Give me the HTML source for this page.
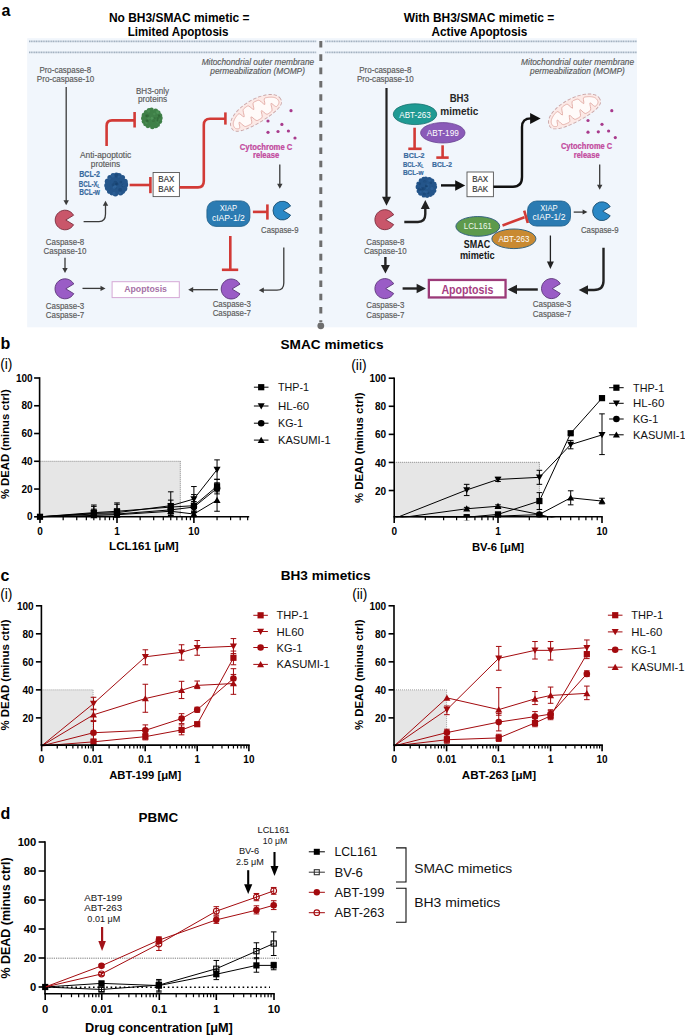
<!DOCTYPE html>
<html><head><meta charset="utf-8"><style>
html,body{margin:0;padding:0;background:#fff;}
svg{display:block;font-family:"Liberation Sans",sans-serif;}
</style></head><body>
<svg width="685" height="1035" viewBox="0 0 685 1035">
<rect width="685" height="1035" fill="#fff"/>
<rect x="27.2" y="38.2" width="609.8" height="289.1" fill="#f1f6fc"/>
<line x1="29.00" y1="41.40" x2="316.50" y2="41.40" stroke="#a2b1c0" stroke-width="1.9" stroke-dasharray="1.2 0.5"/>
<line x1="325.30" y1="41.40" x2="637.00" y2="41.40" stroke="#a2b1c0" stroke-width="1.9" stroke-dasharray="1.2 0.5"/>
<line x1="29.00" y1="52.40" x2="316.50" y2="52.40" stroke="#a2b1c0" stroke-width="1.9" stroke-dasharray="1.2 0.5"/>
<line x1="325.30" y1="52.40" x2="637.00" y2="52.40" stroke="#a2b1c0" stroke-width="1.9" stroke-dasharray="1.2 0.5"/>
<line x1="320.80" y1="41.00" x2="320.80" y2="322.00" stroke="#6e6e6e" stroke-width="3" stroke-dasharray="6.6 6.7"/>
<circle cx="320.8" cy="325.8" r="3.4" fill="#6e6e6e"/>
<text x="1.50" y="16.20" font-size="16" font-weight="bold" >a</text>
<text x="179.20" y="22.40" font-size="12" font-weight="bold" text-anchor="middle" textLength="140.60" lengthAdjust="spacingAndGlyphs" >No BH3/SMAC mimetic =</text>
<text x="178.10" y="36.00" font-size="12" font-weight="bold" text-anchor="middle" textLength="100.90" lengthAdjust="spacingAndGlyphs" >Limited Apoptosis</text>
<text x="479.00" y="22.30" font-size="12" font-weight="bold" text-anchor="middle" textLength="150.50" lengthAdjust="spacingAndGlyphs" >With BH3/SMAC mimetic =</text>
<text x="479.40" y="35.70" font-size="12" font-weight="bold" text-anchor="middle" textLength="95.70" lengthAdjust="spacingAndGlyphs" >Active Apoptosis</text>
<text x="65.30" y="73.10" font-size="8.6" fill="#5a5a5a" text-anchor="middle" textLength="51.80" lengthAdjust="spacingAndGlyphs" stroke="#5a5a5a" stroke-width="0.16">Pro-caspase-8</text>
<text x="65.50" y="82.30" font-size="8.6" fill="#5a5a5a" text-anchor="middle" textLength="57.50" lengthAdjust="spacingAndGlyphs" stroke="#5a5a5a" stroke-width="0.16">Pro-caspase-10</text>
<line x1="66.20" y1="87.00" x2="66.20" y2="201.00" stroke="#3a3a3a" stroke-width="1.3" />
<path d="M63.5,200.3 L68.9,200.3 L66.2,205.3 Z" stroke="none" stroke-width="1" fill="#3a3a3a" />
<text x="257.90" y="64.50" font-size="8.6" fill="#5a5a5a" text-anchor="middle" font-style="italic" textLength="112.50" lengthAdjust="spacingAndGlyphs" stroke="#5a5a5a" stroke-width="0.16">Mitochondrial outer membrane</text>
<text x="257.60" y="73.80" font-size="8.6" fill="#5a5a5a" text-anchor="middle" font-style="italic" textLength="94.70" lengthAdjust="spacingAndGlyphs" stroke="#5a5a5a" stroke-width="0.16">permeabilization (MOMP)</text>
<text x="152.50" y="94.00" font-size="8.6" fill="#5a5a5a" text-anchor="middle" textLength="33.00" lengthAdjust="spacingAndGlyphs" stroke="#5a5a5a" stroke-width="0.16">BH3-only</text>
<text x="152.60" y="102.10" font-size="8.6" fill="#5a5a5a" text-anchor="middle" textLength="29.20" lengthAdjust="spacingAndGlyphs" stroke="#5a5a5a" stroke-width="0.16">proteins</text>
<g>
<circle cx="151.9" cy="118.4" r="8.64" fill="#3f8048"/>
<circle cx="160.18" cy="117.97" r="2.51" fill="#3f8048"/>
<circle cx="159.60" cy="121.36" r="2.55" fill="#3f8048"/>
<circle cx="157.82" cy="124.63" r="2.20" fill="#3f8048"/>
<circle cx="155.71" cy="125.54" r="2.70" fill="#3f8048"/>
<circle cx="152.31" cy="126.88" r="2.31" fill="#3f8048"/>
<circle cx="147.96" cy="125.75" r="2.46" fill="#3f8048"/>
<circle cx="145.63" cy="123.88" r="2.47" fill="#3f8048"/>
<circle cx="143.92" cy="121.45" r="2.26" fill="#3f8048"/>
<circle cx="143.83" cy="118.18" r="2.72" fill="#3f8048"/>
<circle cx="144.38" cy="115.24" r="2.64" fill="#3f8048"/>
<circle cx="146.03" cy="112.12" r="2.20" fill="#3f8048"/>
<circle cx="149.14" cy="110.62" r="2.54" fill="#3f8048"/>
<circle cx="151.56" cy="109.79" r="2.18" fill="#3f8048"/>
<circle cx="155.64" cy="110.95" r="2.47" fill="#3f8048"/>
<circle cx="157.85" cy="112.95" r="2.73" fill="#3f8048"/>
<circle cx="159.46" cy="115.64" r="2.76" fill="#3f8048"/>
<circle cx="146.43" cy="122.64" r="1.37" fill="#5aa064" opacity="0.35"/>
<circle cx="158.88" cy="115.41" r="1.14" fill="#24552c" opacity="0.35"/>
<circle cx="153.13" cy="119.81" r="1.71" fill="#5aa064" opacity="0.35"/>
<circle cx="146.92" cy="120.51" r="1.28" fill="#24552c" opacity="0.35"/>
<circle cx="148.57" cy="118.25" r="1.31" fill="#5aa064" opacity="0.35"/>
<circle cx="147.56" cy="115.83" r="1.67" fill="#24552c" opacity="0.35"/>
<circle cx="148.57" cy="111.10" r="1.63" fill="#5aa064" opacity="0.35"/>
<circle cx="157.69" cy="118.07" r="1.19" fill="#24552c" opacity="0.35"/>
<circle cx="157.24" cy="112.00" r="1.67" fill="#5aa064" opacity="0.35"/>
<circle cx="146.30" cy="115.81" r="1.22" fill="#24552c" opacity="0.35"/>
<circle cx="154.33" cy="114.08" r="1.26" fill="#5aa064" opacity="0.35"/>
<circle cx="158.70" cy="121.26" r="1.72" fill="#24552c" opacity="0.35"/>
<circle cx="157.77" cy="122.05" r="1.35" fill="#5aa064" opacity="0.35"/>
<circle cx="153.38" cy="120.46" r="1.58" fill="#24552c" opacity="0.35"/>
<circle cx="152.17" cy="118.13" r="1.48" fill="#5aa064" opacity="0.35"/>
<circle cx="157.86" cy="120.13" r="1.29" fill="#24552c" opacity="0.35"/>
<circle cx="158.11" cy="112.64" r="1.41" fill="#5aa064" opacity="0.35"/>
<circle cx="154.58" cy="118.37" r="1.13" fill="#24552c" opacity="0.35"/>
<circle cx="151.68" cy="118.24" r="1.21" fill="#5aa064" opacity="0.35"/>
<circle cx="147.48" cy="121.28" r="1.18" fill="#24552c" opacity="0.35"/>
<circle cx="159.13" cy="120.38" r="1.28" fill="#5aa064" opacity="0.35"/>
<circle cx="159.39" cy="116.41" r="1.32" fill="#24552c" opacity="0.35"/>
</g>
<path d="M106.6,146 L106.6,126 Q106.6,120.4 112,120.4 L134,120.4" stroke="#d23a36" stroke-width="2.6" fill="none" />
<line x1="134.60" y1="112.00" x2="134.60" y2="127.50" stroke="#d23a36" stroke-width="2.6" />
<text x="105.60" y="157.80" font-size="8.6" fill="#5a5a5a" text-anchor="middle" textLength="51.20" lengthAdjust="spacingAndGlyphs" stroke="#5a5a5a" stroke-width="0.16">Anti-apoptotic</text>
<text x="105.50" y="166.70" font-size="8.6" fill="#5a5a5a" text-anchor="middle" textLength="29.30" lengthAdjust="spacingAndGlyphs" stroke="#5a5a5a" stroke-width="0.16">proteins</text>
<text x="89.60" y="177.00" font-size="8.4" font-weight="bold" fill="#386a9e" text-anchor="middle" textLength="20.70" lengthAdjust="spacingAndGlyphs" stroke="#386a9e" stroke-width="0.2">BCL-2</text>
<text x="89.30" y="186.70" font-size="8.4" font-weight="bold" fill="#386a9e" text-anchor="middle" textLength="21.00" lengthAdjust="spacingAndGlyphs" stroke="#386a9e" stroke-width="0.2">BCL-X<tspan font-size="5" dy="1.5">L</tspan></text>
<text x="89.60" y="195.40" font-size="8.4" font-weight="bold" fill="#386a9e" text-anchor="middle" textLength="20.70" lengthAdjust="spacingAndGlyphs" stroke="#386a9e" stroke-width="0.2">BCL-w</text>
<g>
<circle cx="116.2" cy="184.5" r="9.60" fill="#24558a"/>
<circle cx="125.26" cy="184.72" r="2.93" fill="#24558a"/>
<circle cx="124.23" cy="188.39" r="3.08" fill="#24558a"/>
<circle cx="122.21" cy="191.11" r="3.06" fill="#24558a"/>
<circle cx="120.53" cy="192.69" r="2.74" fill="#24558a"/>
<circle cx="115.39" cy="193.60" r="2.87" fill="#24558a"/>
<circle cx="111.86" cy="192.97" r="2.48" fill="#24558a"/>
<circle cx="109.58" cy="191.20" r="2.58" fill="#24558a"/>
<circle cx="107.68" cy="187.94" r="2.81" fill="#24558a"/>
<circle cx="106.80" cy="185.42" r="2.56" fill="#24558a"/>
<circle cx="107.80" cy="181.45" r="3.06" fill="#24558a"/>
<circle cx="109.86" cy="177.45" r="2.51" fill="#24558a"/>
<circle cx="113.09" cy="175.52" r="2.50" fill="#24558a"/>
<circle cx="116.42" cy="174.99" r="2.49" fill="#24558a"/>
<circle cx="118.79" cy="175.91" r="3.03" fill="#24558a"/>
<circle cx="122.48" cy="177.44" r="2.56" fill="#24558a"/>
<circle cx="124.78" cy="181.88" r="3.03" fill="#24558a"/>
<circle cx="113.94" cy="193.45" r="1.59" fill="#3a70a8" opacity="0.35"/>
<circle cx="115.34" cy="182.73" r="1.88" fill="#123a63" opacity="0.35"/>
<circle cx="112.82" cy="175.86" r="1.84" fill="#3a70a8" opacity="0.35"/>
<circle cx="115.15" cy="187.81" r="1.32" fill="#123a63" opacity="0.35"/>
<circle cx="116.58" cy="185.00" r="1.42" fill="#3a70a8" opacity="0.35"/>
<circle cx="116.17" cy="184.48" r="1.69" fill="#123a63" opacity="0.35"/>
<circle cx="114.64" cy="187.03" r="1.79" fill="#3a70a8" opacity="0.35"/>
<circle cx="113.19" cy="184.87" r="1.55" fill="#123a63" opacity="0.35"/>
<circle cx="116.05" cy="183.97" r="1.90" fill="#3a70a8" opacity="0.35"/>
<circle cx="123.32" cy="185.53" r="1.81" fill="#123a63" opacity="0.35"/>
<circle cx="123.71" cy="185.36" r="1.46" fill="#3a70a8" opacity="0.35"/>
<circle cx="116.12" cy="184.46" r="1.23" fill="#123a63" opacity="0.35"/>
<circle cx="120.06" cy="192.82" r="1.34" fill="#3a70a8" opacity="0.35"/>
<circle cx="116.52" cy="175.58" r="1.88" fill="#123a63" opacity="0.35"/>
<circle cx="114.30" cy="187.32" r="1.58" fill="#3a70a8" opacity="0.35"/>
<circle cx="116.37" cy="183.48" r="1.74" fill="#123a63" opacity="0.35"/>
<circle cx="118.61" cy="176.61" r="1.23" fill="#3a70a8" opacity="0.35"/>
<circle cx="117.03" cy="184.21" r="1.45" fill="#123a63" opacity="0.35"/>
<circle cx="109.44" cy="178.85" r="1.44" fill="#3a70a8" opacity="0.35"/>
<circle cx="120.85" cy="182.10" r="1.42" fill="#123a63" opacity="0.35"/>
<circle cx="115.51" cy="186.06" r="1.26" fill="#3a70a8" opacity="0.35"/>
<circle cx="120.13" cy="189.82" r="1.92" fill="#123a63" opacity="0.35"/>
</g>
<line x1="129.60" y1="185.00" x2="150.00" y2="185.00" stroke="#d23a36" stroke-width="2.6" />
<line x1="150.40" y1="177.00" x2="150.40" y2="193.20" stroke="#d23a36" stroke-width="2.6" />
<rect x="153.1" y="172.5" width="26.3" height="24.1" fill="#fff" stroke="#555" stroke-width="0.9"/>
<text x="166.30" y="182.00" font-size="8.6" fill="#333" text-anchor="middle" textLength="16.00" lengthAdjust="spacingAndGlyphs" stroke="#333" stroke-width="0.16">BAX</text>
<text x="166.30" y="191.50" font-size="8.6" fill="#333" text-anchor="middle" textLength="16.00" lengthAdjust="spacingAndGlyphs" stroke="#333" stroke-width="0.16">BAK</text>
<path d="M179.4,187.4 L198,187.4 Q203.8,187.4 203.8,181 L203.8,125 Q203.8,118.8 210,118.8 L225,118.8" stroke="#d23a36" stroke-width="2.6" fill="none" />
<line x1="225.40" y1="112.40" x2="225.40" y2="124.60" stroke="#d23a36" stroke-width="2.6" />
<g transform="translate(255.7,112.8) rotate(-31) scale(1.0,1.0)">
<path d="M28.50,1.20 L28.48,0.45 L28.43,-0.16 L28.34,-0.72 L28.22,-1.26 L28.07,-1.77 L27.88,-2.27 L27.65,-2.76 L27.40,-3.24 L27.11,-3.71 L26.78,-4.16 L26.42,-4.61 L26.04,-5.05 L25.62,-5.48 L25.16,-5.90 L24.68,-6.31 L24.17,-6.71 L23.63,-7.11 L23.06,-7.49 L22.46,-7.86 L21.83,-8.22 L21.18,-8.58 L20.50,-8.92 L19.80,-9.25 L19.07,-9.56 L18.32,-9.87 L17.55,-10.16 L16.75,-10.44 L15.94,-10.71 L15.10,-10.96 L14.25,-11.20 L13.38,-11.43 L12.49,-11.64 L11.59,-11.84 L10.68,-12.02 L9.75,-12.19 L8.81,-12.34 L7.86,-12.48 L6.89,-12.60 L5.93,-12.71 L4.95,-12.80 L3.97,-12.87 L2.98,-12.93 L1.99,-12.97 L0.99,-12.99 L0.00,-13.00 L-0.99,-12.99 L-1.99,-12.97 L-2.98,-12.93 L-3.97,-12.87 L-4.95,-12.80 L-5.93,-12.71 L-6.89,-12.60 L-7.86,-12.48 L-8.81,-12.34 L-9.75,-12.19 L-10.68,-12.02 L-11.59,-11.84 L-12.49,-11.64 L-13.38,-11.43 L-14.25,-11.20 L-15.10,-10.96 L-15.94,-10.71 L-16.75,-10.44 L-17.55,-10.16 L-18.32,-9.87 L-19.07,-9.56 L-19.80,-9.25 L-20.50,-8.92 L-21.18,-8.58 L-21.83,-8.22 L-22.46,-7.86 L-23.06,-7.49 L-23.63,-7.11 L-24.17,-6.71 L-24.68,-6.31 L-25.16,-5.90 L-25.62,-5.48 L-26.04,-5.05 L-26.42,-4.61 L-26.78,-4.16 L-27.11,-3.71 L-27.40,-3.24 L-27.65,-2.76 L-27.88,-2.27 L-28.07,-1.77 L-28.22,-1.26 L-28.34,-0.72 L-28.43,-0.16 L-28.48,0.45 L-28.50,1.20 L-28.48,1.79 L-28.43,2.27 L-28.34,2.70 L-28.22,3.10 L-28.07,3.49 L-27.88,3.86 L-27.65,4.21 L-27.40,4.55 L-27.11,4.88 L-26.78,5.20 L-26.42,5.50 L-26.04,5.80 L-25.62,6.08 L-25.16,6.35 L-24.68,6.61 L-24.17,6.87 L-23.63,7.11 L-23.06,7.34 L-22.46,7.57 L-21.83,7.78 L-21.18,7.98 L-20.50,8.18 L-19.80,8.36 L-19.07,8.54 L-18.32,8.71 L-17.55,8.87 L-16.75,9.02 L-15.94,9.16 L-15.10,9.29 L-14.25,9.41 L-13.38,9.53 L-12.49,9.64 L-11.59,9.74 L-10.68,9.83 L-9.75,9.91 L-8.81,9.98 L-7.86,10.05 L-6.89,10.11 L-5.93,10.16 L-4.95,10.20 L-3.97,10.24 L-2.98,10.27 L-1.99,10.28 L-0.99,10.30 L-0.00,10.30 L0.99,10.30 L1.99,10.28 L2.98,10.27 L3.97,10.24 L4.95,10.20 L5.93,10.16 L6.89,10.11 L7.86,10.05 L8.81,9.98 L9.75,9.91 L10.68,9.83 L11.59,9.74 L12.49,9.64 L13.38,9.53 L14.25,9.41 L15.10,9.29 L15.94,9.16 L16.75,9.02 L17.55,8.87 L18.32,8.71 L19.07,8.54 L19.80,8.36 L20.50,8.18 L21.18,7.98 L21.83,7.78 L22.46,7.57 L23.06,7.34 L23.63,7.11 L24.17,6.87 L24.68,6.61 L25.16,6.35 L25.62,6.08 L26.04,5.80 L26.42,5.50 L26.78,5.20 L27.11,4.88 L27.40,4.55 L27.65,4.21 L27.88,3.86 L28.07,3.49 L28.22,3.10 L28.34,2.70 L28.43,2.27 L28.48,1.79 Z" fill="#fce9e6" stroke="#c9a6a8" stroke-width="0.9" stroke-dasharray="3.4 1.9"/>
<path d="M25.80,1.20 L25.78,0.61 L25.74,0.13 L25.66,-0.31 L25.55,-0.73 L25.41,-1.14 L25.24,-1.54 L25.03,-1.92 L24.80,-2.30 L24.54,-2.67 L24.24,-3.04 L23.92,-3.40 L23.57,-3.75 L23.19,-4.09 L22.78,-4.43 L22.34,-4.76 L21.88,-5.08 L21.39,-5.40 L20.87,-5.71 L20.33,-6.01 L19.76,-6.30 L19.17,-6.59 L18.56,-6.86 L17.92,-7.13 L17.26,-7.39 L16.58,-7.63 L15.88,-7.84 L15.16,-7.90 L14.43,-7.48 L13.67,-6.06 L12.90,-3.81 L12.11,-2.44 L11.31,-3.57 L10.49,-6.28 L9.66,-8.41 L8.82,-9.34 L7.97,-9.64 L7.11,-9.77 L6.24,-9.87 L5.36,-9.96 L4.48,-10.03 L3.59,-10.02 L2.70,-9.61 L1.80,-8.05 L0.90,-5.28 L0.00,-3.70 L-0.90,-5.28 L-1.80,-8.05 L-2.70,-9.61 L-3.59,-10.02 L-4.48,-10.03 L-5.36,-9.96 L-6.24,-9.87 L-7.11,-9.77 L-7.97,-9.64 L-8.82,-9.34 L-9.66,-8.41 L-10.49,-6.28 L-11.31,-3.57 L-12.11,-2.44 L-12.90,-3.81 L-13.67,-6.06 L-14.43,-7.48 L-15.16,-7.90 L-15.88,-7.84 L-16.58,-7.63 L-17.26,-7.39 L-17.92,-7.13 L-18.56,-6.86 L-19.17,-6.59 L-19.76,-6.30 L-20.33,-6.01 L-20.87,-5.71 L-21.39,-5.40 L-21.88,-5.08 L-22.34,-4.76 L-22.78,-4.43 L-23.19,-4.09 L-23.57,-3.75 L-23.92,-3.40 L-24.24,-3.04 L-24.54,-2.67 L-24.80,-2.30 L-25.03,-1.92 L-25.24,-1.54 L-25.41,-1.14 L-25.55,-0.73 L-25.66,-0.31 L-25.74,0.13 L-25.78,0.61 L-25.80,1.20 L-25.78,1.64 L-25.74,1.98 L-25.66,2.30 L-25.55,2.60 L-25.41,2.88 L-25.24,3.15 L-25.03,3.40 L-24.80,3.65 L-24.54,3.89 L-24.24,4.11 L-23.92,4.33 L-23.57,4.53 L-23.19,4.72 L-22.78,4.89 L-22.34,4.98 L-21.88,4.92 L-21.39,4.56 L-20.87,3.69 L-20.33,2.26 L-19.76,0.61 L-19.17,-0.37 L-18.56,0.12 L-17.92,1.97 L-17.26,4.15 L-16.58,5.69 L-15.88,6.44 L-15.16,6.72 L-14.43,6.85 L-13.67,6.94 L-12.90,7.03 L-12.11,7.10 L-11.31,7.17 L-10.49,7.23 L-9.66,7.23 L-8.82,6.94 L-7.97,5.71 L-7.11,3.20 L-6.24,1.11 L-5.36,1.86 L-4.48,4.62 L-3.59,6.69 L-2.70,7.43 L-1.80,7.58 L-0.90,7.60 L-0.00,7.60 L0.90,7.60 L1.80,7.58 L2.70,7.43 L3.59,6.69 L4.48,4.62 L5.36,1.86 L6.24,1.11 L7.11,3.20 L7.97,5.71 L8.82,6.94 L9.66,7.23 L10.49,7.23 L11.31,7.17 L12.11,7.10 L12.90,7.02 L13.67,6.93 L14.43,6.78 L15.16,6.36 L15.88,5.28 L16.58,3.31 L17.26,1.05 L17.92,-0.16 L18.56,0.36 L19.17,2.03 L19.76,3.71 L20.33,4.79 L20.87,5.25 L21.39,5.34 L21.88,5.26 L22.34,5.11 L22.78,4.93 L23.19,4.74 L23.57,4.54 L23.92,4.33 L24.24,4.11 L24.54,3.89 L24.80,3.65 L25.03,3.40 L25.24,3.15 L25.41,2.88 L25.55,2.60 L25.66,2.30 L25.74,1.98 L25.78,1.64 Z" fill="#fffaf9" stroke="#e3aea8" stroke-width="0.85" stroke-linejoin="round"/>
</g>
<circle cx="291" cy="110.7" r="1.6" fill="#a83a8c"/>
<circle cx="268" cy="121" r="1.6" fill="#a83a8c"/>
<circle cx="281.9" cy="124.4" r="1.6" fill="#a83a8c"/>
<circle cx="268" cy="132.3" r="1.6" fill="#a83a8c"/>
<circle cx="278" cy="131.5" r="1.6" fill="#a83a8c"/>
<circle cx="288.4" cy="131" r="1.6" fill="#a83a8c"/>
<circle cx="295" cy="138" r="1.6" fill="#a83a8c"/>
<text x="266.10" y="149.50" font-size="8.6" font-weight="bold" fill="#c2489c" text-anchor="middle" textLength="52.60" lengthAdjust="spacingAndGlyphs" stroke="#c2489c" stroke-width="0.2">Cytochrome C</text>
<text x="266.20" y="158.10" font-size="8.6" font-weight="bold" fill="#c2489c" text-anchor="middle" textLength="26.30" lengthAdjust="spacingAndGlyphs" stroke="#c2489c" stroke-width="0.2">release</text>
<line x1="279.80" y1="164.60" x2="279.80" y2="184.50" stroke="#3a3a3a" stroke-width="1.3" />
<path d="M277.1,183.7 L282.5,183.7 L279.8,188.7 Z" stroke="none" stroke-width="1" fill="#3a3a3a" />
<rect x="206.9" y="200.9" width="43" height="25.5" rx="9" fill="#2b7bb2" stroke="#1d5d88" stroke-width="0.8"/>
<text x="228.40" y="211.00" font-size="8.4" fill="#fff" text-anchor="middle" textLength="17.50" lengthAdjust="spacingAndGlyphs" >XIAP</text>
<text x="228.40" y="220.50" font-size="8.4" fill="#fff" text-anchor="middle" textLength="33.00" lengthAdjust="spacingAndGlyphs" >cIAP-1/2</text>
<line x1="252.90" y1="211.90" x2="267.00" y2="211.90" stroke="#d23a36" stroke-width="2.6" />
<line x1="267.40" y1="204.40" x2="267.40" y2="219.60" stroke="#d23a36" stroke-width="2.6" />
<path d="M290.62,206.04 A9.4,9.4 0 1 0 290.62,215.16 L283.15,210.60 Z" stroke="#1d4f70" stroke-width="0.9" fill="#2a88c6" stroke-linejoin="round"/>
<text x="279.80" y="232.80" font-size="8.6" fill="#5a5a5a" text-anchor="middle" textLength="37.40" lengthAdjust="spacingAndGlyphs" stroke="#5a5a5a" stroke-width="0.16">Caspase-9</text>
<line x1="230.30" y1="236.00" x2="230.30" y2="269.20" stroke="#d23a36" stroke-width="2.6" />
<line x1="221.90" y1="269.80" x2="238.20" y2="269.80" stroke="#d23a36" stroke-width="2.6" />
<path d="M283.8,247.6 L283.8,283 Q283.8,290.2 277,290.2 L263,290.2" stroke="#3a3a3a" stroke-width="1.3" fill="none" />
<path d="M263.8,287.5 L263.8,292.9 L258.8,290.2 Z" stroke="none" stroke-width="1" fill="#3a3a3a" />
<path d="M239.95,284.15 A10,10 0 1 0 239.95,293.85 L232.00,289.00 Z" stroke="#5a3478" stroke-width="0.9" fill="#9a5cc6" stroke-linejoin="round"/>
<text x="231.80" y="307.10" font-size="8.6" fill="#5a5a5a" text-anchor="middle" textLength="38.30" lengthAdjust="spacingAndGlyphs" stroke="#5a5a5a" stroke-width="0.16">Caspase-3</text>
<text x="231.80" y="315.90" font-size="8.6" fill="#5a5a5a" text-anchor="middle" textLength="38.30" lengthAdjust="spacingAndGlyphs" stroke="#5a5a5a" stroke-width="0.16">Caspase-7</text>
<line x1="217.90" y1="289.70" x2="193.00" y2="289.70" stroke="#3a3a3a" stroke-width="1.3" />
<path d="M193.2,287.0 L193.2,292.4 L188.2,289.7 Z" stroke="none" stroke-width="1" fill="#3a3a3a" />
<rect x="112.1" y="281.7" width="67.2" height="15.9" fill="#fff" stroke="#d5a8d5" stroke-width="1"/>
<text x="145.60" y="292.40" font-size="9.8" font-weight="bold" fill="#a671a6" text-anchor="middle" textLength="42.80" lengthAdjust="spacingAndGlyphs" >Apoptosis</text>
<path d="M73.57,215.25 A9.8,9.8 0 1 0 73.57,224.75 L65.78,220.00 Z" stroke="#7a2e3e" stroke-width="0.9" fill="#c9566a" stroke-linejoin="round"/>
<path d="M83.6,221.6 L99,221.6 Q105.5,221.6 105.5,214 L105.5,205" stroke="#3a3a3a" stroke-width="1.3" fill="none" />
<path d="M102.8,205.8 L108.2,205.8 L105.5,200.8 Z" stroke="none" stroke-width="1" fill="#3a3a3a" />
<text x="65.00" y="244.90" font-size="8.6" fill="#5a5a5a" text-anchor="middle" textLength="38.50" lengthAdjust="spacingAndGlyphs" stroke="#5a5a5a" stroke-width="0.16">Caspase-8</text>
<text x="65.00" y="253.90" font-size="8.6" fill="#5a5a5a" text-anchor="middle" textLength="42.90" lengthAdjust="spacingAndGlyphs" stroke="#5a5a5a" stroke-width="0.16">Caspase-10</text>
<line x1="65.00" y1="257.70" x2="65.00" y2="269.00" stroke="#3a3a3a" stroke-width="1.3" />
<path d="M62.3,268 L67.7,268 L65,273 Z" stroke="none" stroke-width="1" fill="#3a3a3a" />
<path d="M73.75,283.95 A10,10 0 1 0 73.75,293.65 L65.80,288.80 Z" stroke="#5a3478" stroke-width="0.9" fill="#9a5cc6" stroke-linejoin="round"/>
<line x1="82.50" y1="288.40" x2="101.00" y2="288.40" stroke="#3a3a3a" stroke-width="1.3" />
<path d="M100.5,285.7 L100.5,291.09999999999997 L105.5,288.4 Z" stroke="none" stroke-width="1" fill="#3a3a3a" />
<text x="65.00" y="308.60" font-size="8.6" fill="#5a5a5a" text-anchor="middle" textLength="38.50" lengthAdjust="spacingAndGlyphs" stroke="#5a5a5a" stroke-width="0.16">Caspase-3</text>
<text x="65.00" y="317.70" font-size="8.6" fill="#5a5a5a" text-anchor="middle" textLength="38.50" lengthAdjust="spacingAndGlyphs" stroke="#5a5a5a" stroke-width="0.16">Caspase-7</text>
<text x="385.30" y="73.00" font-size="8.6" fill="#5a5a5a" text-anchor="middle" textLength="52.10" lengthAdjust="spacingAndGlyphs" stroke="#5a5a5a" stroke-width="0.16">Pro-caspase-8</text>
<text x="385.30" y="82.20" font-size="8.6" fill="#5a5a5a" text-anchor="middle" textLength="56.70" lengthAdjust="spacingAndGlyphs" stroke="#5a5a5a" stroke-width="0.16">Pro-caspase-10</text>
<line x1="386.50" y1="88.00" x2="386.50" y2="198.00" stroke="#222" stroke-width="2.2" />
<path d="M382.0,196.7 L391.0,196.7 L386.5,205.7 Z" stroke="none" stroke-width="1" fill="#222" />
<ellipse cx="415" cy="114.2" rx="21.7" ry="10.4" fill="#1f9a93" stroke="#17706d" stroke-width="0.8"/>
<text x="415.00" y="117.90" font-size="8.6" fill="#fff" text-anchor="middle" textLength="31.50" lengthAdjust="spacingAndGlyphs" >ABT-263</text>
<ellipse cx="442.8" cy="132.8" rx="22.2" ry="10.2" fill="#8a5ab8" stroke="#6a4392" stroke-width="0.8"/>
<text x="442.80" y="135.50" font-size="8.6" fill="#fff" text-anchor="middle" textLength="32.00" lengthAdjust="spacingAndGlyphs" >ABT-199</text>
<text x="459.30" y="102.40" font-size="10.5" font-weight="bold" fill="#262626" text-anchor="middle" textLength="19.20" lengthAdjust="spacingAndGlyphs" >BH3</text>
<text x="459.30" y="114.50" font-size="10.5" font-weight="bold" fill="#262626" text-anchor="middle" textLength="38.00" lengthAdjust="spacingAndGlyphs" >mimetic</text>
<line x1="414.60" y1="127.70" x2="414.60" y2="148.80" stroke="#d23a36" stroke-width="2.6" />
<line x1="408.30" y1="148.80" x2="421.60" y2="148.80" stroke="#d23a36" stroke-width="2.6" />
<line x1="442.60" y1="145.30" x2="442.60" y2="157.60" stroke="#d23a36" stroke-width="2.6" />
<line x1="436.30" y1="157.60" x2="448.70" y2="157.60" stroke="#d23a36" stroke-width="2.6" />
<text x="414.10" y="157.70" font-size="8.0" font-weight="bold" fill="#386a9e" text-anchor="middle" textLength="21.00" lengthAdjust="spacingAndGlyphs" stroke="#386a9e" stroke-width="0.2">BCL-2</text>
<text x="413.20" y="166.80" font-size="8.0" font-weight="bold" fill="#386a9e" text-anchor="middle" textLength="20.50" lengthAdjust="spacingAndGlyphs" stroke="#386a9e" stroke-width="0.2">BCL-X<tspan font-size="5" dy="1.5">L</tspan></text>
<text x="413.20" y="175.10" font-size="8.0" font-weight="bold" fill="#386a9e" text-anchor="middle" textLength="20.50" lengthAdjust="spacingAndGlyphs" stroke="#386a9e" stroke-width="0.2">BCL-w</text>
<text x="442.00" y="166.90" font-size="8.0" font-weight="bold" fill="#386a9e" text-anchor="middle" textLength="20.00" lengthAdjust="spacingAndGlyphs" stroke="#386a9e" stroke-width="0.2">BCL-2</text>
<g>
<circle cx="426.4" cy="187.2" r="8.64" fill="#24558a"/>
<circle cx="434.94" cy="186.90" r="2.26" fill="#24558a"/>
<circle cx="434.24" cy="190.73" r="2.21" fill="#24558a"/>
<circle cx="432.30" cy="193.18" r="2.40" fill="#24558a"/>
<circle cx="430.25" cy="194.57" r="2.49" fill="#24558a"/>
<circle cx="427.17" cy="195.52" r="2.44" fill="#24558a"/>
<circle cx="423.81" cy="195.38" r="2.22" fill="#24558a"/>
<circle cx="420.76" cy="193.02" r="2.70" fill="#24558a"/>
<circle cx="418.82" cy="191.03" r="2.30" fill="#24558a"/>
<circle cx="418.38" cy="187.00" r="2.77" fill="#24558a"/>
<circle cx="418.71" cy="183.87" r="2.42" fill="#24558a"/>
<circle cx="420.92" cy="180.56" r="2.19" fill="#24558a"/>
<circle cx="423.73" cy="179.18" r="2.35" fill="#24558a"/>
<circle cx="425.79" cy="178.66" r="2.24" fill="#24558a"/>
<circle cx="429.21" cy="179.59" r="2.69" fill="#24558a"/>
<circle cx="431.86" cy="181.00" r="2.54" fill="#24558a"/>
<circle cx="434.25" cy="184.20" r="2.40" fill="#24558a"/>
<circle cx="425.88" cy="187.04" r="1.12" fill="#3a70a8" opacity="0.35"/>
<circle cx="428.01" cy="192.86" r="1.36" fill="#123a63" opacity="0.35"/>
<circle cx="424.42" cy="191.85" r="1.37" fill="#3a70a8" opacity="0.35"/>
<circle cx="424.29" cy="193.73" r="1.53" fill="#123a63" opacity="0.35"/>
<circle cx="426.58" cy="192.16" r="1.42" fill="#3a70a8" opacity="0.35"/>
<circle cx="430.86" cy="182.75" r="1.27" fill="#123a63" opacity="0.35"/>
<circle cx="427.41" cy="187.07" r="1.35" fill="#3a70a8" opacity="0.35"/>
<circle cx="426.46" cy="185.89" r="1.40" fill="#123a63" opacity="0.35"/>
<circle cx="432.00" cy="188.61" r="1.58" fill="#3a70a8" opacity="0.35"/>
<circle cx="419.62" cy="183.85" r="1.28" fill="#123a63" opacity="0.35"/>
<circle cx="424.67" cy="182.37" r="1.46" fill="#3a70a8" opacity="0.35"/>
<circle cx="419.42" cy="189.17" r="1.69" fill="#123a63" opacity="0.35"/>
<circle cx="420.74" cy="188.13" r="1.12" fill="#3a70a8" opacity="0.35"/>
<circle cx="424.72" cy="181.87" r="1.72" fill="#123a63" opacity="0.35"/>
<circle cx="427.47" cy="184.99" r="1.33" fill="#3a70a8" opacity="0.35"/>
<circle cx="426.30" cy="187.03" r="1.38" fill="#123a63" opacity="0.35"/>
<circle cx="426.90" cy="188.08" r="1.12" fill="#3a70a8" opacity="0.35"/>
<circle cx="426.53" cy="186.09" r="1.24" fill="#123a63" opacity="0.35"/>
<circle cx="420.57" cy="191.96" r="1.13" fill="#3a70a8" opacity="0.35"/>
<circle cx="421.89" cy="188.69" r="1.65" fill="#123a63" opacity="0.35"/>
<circle cx="429.55" cy="180.43" r="1.26" fill="#3a70a8" opacity="0.35"/>
<circle cx="423.73" cy="188.77" r="1.65" fill="#123a63" opacity="0.35"/>
</g>
<line x1="441.00" y1="185.40" x2="456.00" y2="185.40" stroke="#111" stroke-width="2.4" />
<path d="M455.2,180.15 L455.2,190.65 L465.2,185.4 Z" stroke="none" stroke-width="1" fill="#111" />
<rect x="467" y="172" width="26.4" height="24.7" fill="#fff" stroke="#555" stroke-width="0.9"/>
<text x="480.20" y="181.70" font-size="8.6" fill="#333" text-anchor="middle" textLength="16.00" lengthAdjust="spacingAndGlyphs" stroke="#333" stroke-width="0.16">BAX</text>
<text x="480.20" y="191.50" font-size="8.6" fill="#333" text-anchor="middle" textLength="16.00" lengthAdjust="spacingAndGlyphs" stroke="#333" stroke-width="0.16">BAK</text>
<path d="M493.4,186.7 L513,186.7 Q522,186.7 522,177 L522,127 Q522,118.4 531,118.4 L531,118.4" stroke="#111" stroke-width="2.4" fill="none" />
<path d="M530.1,112.9 L530.1,123.9 L540.6,118.4 Z" stroke="none" stroke-width="1" fill="#111" />
<g transform="translate(574.2,111.5) rotate(-28) scale(1.0,1.0)">
<path d="M28.50,1.20 L28.48,0.45 L28.43,-0.16 L28.34,-0.72 L28.22,-1.26 L28.07,-1.77 L27.88,-2.27 L27.65,-2.76 L27.40,-3.24 L27.11,-3.71 L26.78,-4.16 L26.42,-4.61 L26.04,-5.05 L25.62,-5.48 L25.16,-5.90 L24.68,-6.31 L24.17,-6.71 L23.63,-7.11 L23.06,-7.49 L22.46,-7.86 L21.83,-8.22 L21.18,-8.58 L20.50,-8.92 L19.80,-9.25 L19.07,-9.56 L18.32,-9.87 L17.55,-10.16 L16.75,-10.44 L15.94,-10.71 L15.10,-10.96 L14.25,-11.20 L13.38,-11.43 L12.49,-11.64 L11.59,-11.84 L10.68,-12.02 L9.75,-12.19 L8.81,-12.34 L7.86,-12.48 L6.89,-12.60 L5.93,-12.71 L4.95,-12.80 L3.97,-12.87 L2.98,-12.93 L1.99,-12.97 L0.99,-12.99 L0.00,-13.00 L-0.99,-12.99 L-1.99,-12.97 L-2.98,-12.93 L-3.97,-12.87 L-4.95,-12.80 L-5.93,-12.71 L-6.89,-12.60 L-7.86,-12.48 L-8.81,-12.34 L-9.75,-12.19 L-10.68,-12.02 L-11.59,-11.84 L-12.49,-11.64 L-13.38,-11.43 L-14.25,-11.20 L-15.10,-10.96 L-15.94,-10.71 L-16.75,-10.44 L-17.55,-10.16 L-18.32,-9.87 L-19.07,-9.56 L-19.80,-9.25 L-20.50,-8.92 L-21.18,-8.58 L-21.83,-8.22 L-22.46,-7.86 L-23.06,-7.49 L-23.63,-7.11 L-24.17,-6.71 L-24.68,-6.31 L-25.16,-5.90 L-25.62,-5.48 L-26.04,-5.05 L-26.42,-4.61 L-26.78,-4.16 L-27.11,-3.71 L-27.40,-3.24 L-27.65,-2.76 L-27.88,-2.27 L-28.07,-1.77 L-28.22,-1.26 L-28.34,-0.72 L-28.43,-0.16 L-28.48,0.45 L-28.50,1.20 L-28.48,1.79 L-28.43,2.27 L-28.34,2.70 L-28.22,3.10 L-28.07,3.49 L-27.88,3.86 L-27.65,4.21 L-27.40,4.55 L-27.11,4.88 L-26.78,5.20 L-26.42,5.50 L-26.04,5.80 L-25.62,6.08 L-25.16,6.35 L-24.68,6.61 L-24.17,6.87 L-23.63,7.11 L-23.06,7.34 L-22.46,7.57 L-21.83,7.78 L-21.18,7.98 L-20.50,8.18 L-19.80,8.36 L-19.07,8.54 L-18.32,8.71 L-17.55,8.87 L-16.75,9.02 L-15.94,9.16 L-15.10,9.29 L-14.25,9.41 L-13.38,9.53 L-12.49,9.64 L-11.59,9.74 L-10.68,9.83 L-9.75,9.91 L-8.81,9.98 L-7.86,10.05 L-6.89,10.11 L-5.93,10.16 L-4.95,10.20 L-3.97,10.24 L-2.98,10.27 L-1.99,10.28 L-0.99,10.30 L-0.00,10.30 L0.99,10.30 L1.99,10.28 L2.98,10.27 L3.97,10.24 L4.95,10.20 L5.93,10.16 L6.89,10.11 L7.86,10.05 L8.81,9.98 L9.75,9.91 L10.68,9.83 L11.59,9.74 L12.49,9.64 L13.38,9.53 L14.25,9.41 L15.10,9.29 L15.94,9.16 L16.75,9.02 L17.55,8.87 L18.32,8.71 L19.07,8.54 L19.80,8.36 L20.50,8.18 L21.18,7.98 L21.83,7.78 L22.46,7.57 L23.06,7.34 L23.63,7.11 L24.17,6.87 L24.68,6.61 L25.16,6.35 L25.62,6.08 L26.04,5.80 L26.42,5.50 L26.78,5.20 L27.11,4.88 L27.40,4.55 L27.65,4.21 L27.88,3.86 L28.07,3.49 L28.22,3.10 L28.34,2.70 L28.43,2.27 L28.48,1.79 Z" fill="#fce9e6" stroke="#c9a6a8" stroke-width="0.9" stroke-dasharray="3.4 1.9"/>
<path d="M25.80,1.20 L25.78,0.61 L25.74,0.13 L25.66,-0.31 L25.55,-0.73 L25.41,-1.14 L25.24,-1.54 L25.03,-1.92 L24.80,-2.30 L24.54,-2.67 L24.24,-3.04 L23.92,-3.40 L23.57,-3.75 L23.19,-4.09 L22.78,-4.43 L22.34,-4.76 L21.88,-5.08 L21.39,-5.40 L20.87,-5.71 L20.33,-6.01 L19.76,-6.30 L19.17,-6.59 L18.56,-6.86 L17.92,-7.13 L17.26,-7.39 L16.58,-7.63 L15.88,-7.84 L15.16,-7.90 L14.43,-7.48 L13.67,-6.06 L12.90,-3.81 L12.11,-2.44 L11.31,-3.57 L10.49,-6.28 L9.66,-8.41 L8.82,-9.34 L7.97,-9.64 L7.11,-9.77 L6.24,-9.87 L5.36,-9.96 L4.48,-10.03 L3.59,-10.02 L2.70,-9.61 L1.80,-8.05 L0.90,-5.28 L0.00,-3.70 L-0.90,-5.28 L-1.80,-8.05 L-2.70,-9.61 L-3.59,-10.02 L-4.48,-10.03 L-5.36,-9.96 L-6.24,-9.87 L-7.11,-9.77 L-7.97,-9.64 L-8.82,-9.34 L-9.66,-8.41 L-10.49,-6.28 L-11.31,-3.57 L-12.11,-2.44 L-12.90,-3.81 L-13.67,-6.06 L-14.43,-7.48 L-15.16,-7.90 L-15.88,-7.84 L-16.58,-7.63 L-17.26,-7.39 L-17.92,-7.13 L-18.56,-6.86 L-19.17,-6.59 L-19.76,-6.30 L-20.33,-6.01 L-20.87,-5.71 L-21.39,-5.40 L-21.88,-5.08 L-22.34,-4.76 L-22.78,-4.43 L-23.19,-4.09 L-23.57,-3.75 L-23.92,-3.40 L-24.24,-3.04 L-24.54,-2.67 L-24.80,-2.30 L-25.03,-1.92 L-25.24,-1.54 L-25.41,-1.14 L-25.55,-0.73 L-25.66,-0.31 L-25.74,0.13 L-25.78,0.61 L-25.80,1.20 L-25.78,1.64 L-25.74,1.98 L-25.66,2.30 L-25.55,2.60 L-25.41,2.88 L-25.24,3.15 L-25.03,3.40 L-24.80,3.65 L-24.54,3.89 L-24.24,4.11 L-23.92,4.33 L-23.57,4.53 L-23.19,4.72 L-22.78,4.89 L-22.34,4.98 L-21.88,4.92 L-21.39,4.56 L-20.87,3.69 L-20.33,2.26 L-19.76,0.61 L-19.17,-0.37 L-18.56,0.12 L-17.92,1.97 L-17.26,4.15 L-16.58,5.69 L-15.88,6.44 L-15.16,6.72 L-14.43,6.85 L-13.67,6.94 L-12.90,7.03 L-12.11,7.10 L-11.31,7.17 L-10.49,7.23 L-9.66,7.23 L-8.82,6.94 L-7.97,5.71 L-7.11,3.20 L-6.24,1.11 L-5.36,1.86 L-4.48,4.62 L-3.59,6.69 L-2.70,7.43 L-1.80,7.58 L-0.90,7.60 L-0.00,7.60 L0.90,7.60 L1.80,7.58 L2.70,7.43 L3.59,6.69 L4.48,4.62 L5.36,1.86 L6.24,1.11 L7.11,3.20 L7.97,5.71 L8.82,6.94 L9.66,7.23 L10.49,7.23 L11.31,7.17 L12.11,7.10 L12.90,7.02 L13.67,6.93 L14.43,6.78 L15.16,6.36 L15.88,5.28 L16.58,3.31 L17.26,1.05 L17.92,-0.16 L18.56,0.36 L19.17,2.03 L19.76,3.71 L20.33,4.79 L20.87,5.25 L21.39,5.34 L21.88,5.26 L22.34,5.11 L22.78,4.93 L23.19,4.74 L23.57,4.54 L23.92,4.33 L24.24,4.11 L24.54,3.89 L24.80,3.65 L25.03,3.40 L25.24,3.15 L25.41,2.88 L25.55,2.60 L25.66,2.30 L25.74,1.98 L25.78,1.64 Z" fill="#fffaf9" stroke="#e3aea8" stroke-width="0.85" stroke-linejoin="round"/>
</g>
<circle cx="611.8" cy="110.7" r="1.6" fill="#a83a8c"/>
<circle cx="588" cy="120.5" r="1.6" fill="#a83a8c"/>
<circle cx="602" cy="124.3" r="1.6" fill="#a83a8c"/>
<circle cx="588" cy="132.2" r="1.6" fill="#a83a8c"/>
<circle cx="598.3" cy="131.8" r="1.6" fill="#a83a8c"/>
<circle cx="608.6" cy="131" r="1.6" fill="#a83a8c"/>
<circle cx="615.3" cy="137.6" r="1.6" fill="#a83a8c"/>
<text x="577.60" y="64.50" font-size="8.6" fill="#5a5a5a" text-anchor="middle" font-style="italic" textLength="113.00" lengthAdjust="spacingAndGlyphs" stroke="#5a5a5a" stroke-width="0.16">Mitochondrial outer membrane</text>
<text x="577.40" y="74.10" font-size="8.6" fill="#5a5a5a" text-anchor="middle" font-style="italic" textLength="94.70" lengthAdjust="spacingAndGlyphs" stroke="#5a5a5a" stroke-width="0.16">permeabilization (MOMP)</text>
<text x="586.60" y="148.80" font-size="8.6" font-weight="bold" fill="#c2489c" text-anchor="middle" textLength="51.30" lengthAdjust="spacingAndGlyphs" stroke="#c2489c" stroke-width="0.2">Cytochrome C</text>
<text x="586.70" y="157.80" font-size="8.6" font-weight="bold" fill="#c2489c" text-anchor="middle" textLength="25.90" lengthAdjust="spacingAndGlyphs" stroke="#c2489c" stroke-width="0.2">release</text>
<line x1="599.70" y1="164.50" x2="599.70" y2="185.50" stroke="#3a3a3a" stroke-width="1.3" />
<path d="M597.0,184.7 L602.4000000000001,184.7 L599.7,189.7 Z" stroke="none" stroke-width="1" fill="#3a3a3a" />
<rect x="527.6" y="201" width="42.9" height="25.1" rx="9" fill="#2b7bb2" stroke="#1d5d88" stroke-width="0.8"/>
<text x="549.00" y="211.30" font-size="8.4" fill="#fff" text-anchor="middle" textLength="17.50" lengthAdjust="spacingAndGlyphs" >XIAP</text>
<text x="549.00" y="220.30" font-size="8.4" fill="#fff" text-anchor="middle" textLength="33.00" lengthAdjust="spacingAndGlyphs" >cIAP-1/2</text>
<line x1="573.70" y1="212.10" x2="583.00" y2="212.10" stroke="#3a3a3a" stroke-width="1.3" />
<path d="M582.6,209.6 L582.6,214.6 L587.4,212.1 Z" stroke="none" stroke-width="1" fill="#333" />
<path d="M610.22,206.64 A9.4,9.4 0 1 0 610.22,215.76 L602.75,211.20 Z" stroke="#1d4f70" stroke-width="0.9" fill="#2a88c6" stroke-linejoin="round"/>
<text x="599.80" y="232.70" font-size="8.6" fill="#5a5a5a" text-anchor="middle" textLength="37.70" lengthAdjust="spacingAndGlyphs" stroke="#5a5a5a" stroke-width="0.16">Caspase-9</text>
<ellipse cx="477.8" cy="226.4" rx="21.9" ry="9.85" fill="#5d9a4c" stroke="#35637f" stroke-width="1"/>
<text x="477.80" y="229.40" font-size="8.8" fill="#eef8ea" text-anchor="middle" textLength="28.00" lengthAdjust="spacingAndGlyphs" >LCL161</text>
<ellipse cx="513.9" cy="238.8" rx="22" ry="9.8" fill="#c98a32" stroke="#35637f" stroke-width="1"/>
<text x="513.90" y="241.50" font-size="8.8" fill="#fff" text-anchor="middle" textLength="31.00" lengthAdjust="spacingAndGlyphs" >ABT-263</text>
<line x1="502.50" y1="225.50" x2="524.50" y2="217.20" stroke="#d23a36" stroke-width="2.6" />
<line x1="524.20" y1="210.60" x2="527.80" y2="223.00" stroke="#d23a36" stroke-width="2.6" />
<text x="477.00" y="247.60" font-size="10.2" font-weight="bold" fill="#161616" text-anchor="middle" textLength="26.30" lengthAdjust="spacingAndGlyphs" >SMAC</text>
<text x="477.30" y="258.70" font-size="10.2" font-weight="bold" fill="#161616" text-anchor="middle" textLength="34.80" lengthAdjust="spacingAndGlyphs" >mimetic</text>
<line x1="550.40" y1="235.50" x2="550.40" y2="262.00" stroke="#222" stroke-width="1.3" />
<path d="M546.9,261.5 L553.9,261.5 L550.4,269 Z" stroke="none" stroke-width="1" fill="#222" />
<path d="M560.25,283.75 A10,10 0 1 0 560.25,293.45 L552.30,288.60 Z" stroke="#5a3478" stroke-width="0.9" fill="#9a5cc6" stroke-linejoin="round"/>
<text x="552.00" y="307.40" font-size="8.6" fill="#5a5a5a" text-anchor="middle" textLength="38.60" lengthAdjust="spacingAndGlyphs" stroke="#5a5a5a" stroke-width="0.16">Caspase-3</text>
<text x="552.00" y="316.50" font-size="8.6" fill="#5a5a5a" text-anchor="middle" textLength="38.60" lengthAdjust="spacingAndGlyphs" stroke="#5a5a5a" stroke-width="0.16">Caspase-7</text>
<path d="M603.5,247.7 L603.5,281 Q603.5,290 594,290 L587,290" stroke="#222" stroke-width="2.4" fill="none" />
<path d="M588.0,285.3 L588.0,294.7 L578.7,290 Z" stroke="none" stroke-width="1" fill="#222" />
<line x1="537.80" y1="289.50" x2="515.00" y2="289.50" stroke="#222" stroke-width="2.4" />
<path d="M517.0,284.8 L517.0,294.2 L507.7,289.5 Z" stroke="none" stroke-width="1" fill="#222" />
<rect x="428.85" y="279.95" width="76.7" height="17.5" fill="#fff" stroke="#9c3a78" stroke-width="2.3"/>
<text x="467.40" y="293.80" font-size="13" font-weight="bold" fill="#a63d82" text-anchor="middle" textLength="52.00" lengthAdjust="spacingAndGlyphs" >Apoptosis</text>
<path d="M393.65,214.85 A10,10 0 1 0 393.65,224.55 L385.70,219.70 Z" stroke="#7a2e3e" stroke-width="0.9" fill="#c9566a" stroke-linejoin="round"/>
<path d="M404.3,222 L418,222 Q425.3,222 425.3,214 L425.3,208" stroke="#222" stroke-width="2.4" fill="none" />
<path d="M420.8,208.9 L429.8,208.9 L425.3,199.9 Z" stroke="none" stroke-width="1" fill="#222" />
<text x="385.30" y="244.90" font-size="8.6" fill="#5a5a5a" text-anchor="middle" textLength="38.10" lengthAdjust="spacingAndGlyphs" stroke="#5a5a5a" stroke-width="0.16">Caspase-8</text>
<text x="385.30" y="253.80" font-size="8.6" fill="#5a5a5a" text-anchor="middle" textLength="42.70" lengthAdjust="spacingAndGlyphs" stroke="#5a5a5a" stroke-width="0.16">Caspase-10</text>
<line x1="385.40" y1="257.00" x2="385.40" y2="266.00" stroke="#222" stroke-width="2.4" />
<path d="M380.9,264.9 L389.9,264.9 L385.4,273.4 Z" stroke="none" stroke-width="1" fill="#222" />
<path d="M393.65,283.75 A10,10 0 1 0 393.65,293.45 L385.70,288.60 Z" stroke="#5a3478" stroke-width="0.9" fill="#9a5cc6" stroke-linejoin="round"/>
<line x1="402.60" y1="288.50" x2="418.00" y2="288.50" stroke="#222" stroke-width="2.4" />
<path d="M416.59999999999997,283.8 L416.59999999999997,293.2 L425.9,288.5 Z" stroke="none" stroke-width="1" fill="#222" />
<text x="385.30" y="308.40" font-size="8.6" fill="#5a5a5a" text-anchor="middle" textLength="38.10" lengthAdjust="spacingAndGlyphs" stroke="#5a5a5a" stroke-width="0.16">Caspase-3</text>
<text x="385.30" y="317.80" font-size="8.6" fill="#5a5a5a" text-anchor="middle" textLength="38.10" lengthAdjust="spacingAndGlyphs" stroke="#5a5a5a" stroke-width="0.16">Caspase-7</text>
<text x="0.60" y="349.20" font-size="16" font-weight="bold" >b</text>
<text x="332.00" y="349.40" font-size="13.2" font-weight="bold" text-anchor="middle" textLength="103.00" lengthAdjust="spacingAndGlyphs" >SMAC mimetics</text>
<text x="0.20" y="368.80" font-size="13.8" textLength="12.30" lengthAdjust="spacingAndGlyphs" >(i)</text>
<text x="351.20" y="369.60" font-size="13.8" textLength="15.40" lengthAdjust="spacingAndGlyphs" >(ii)</text>
<rect x="39.60" y="461.28" width="140.70" height="55.52" fill="#e6e6e6"/>
<line x1="39.60" y1="461.28" x2="180.30" y2="461.28" stroke="#777" stroke-width="0.9" stroke-dasharray="1 1"/>
<line x1="180.30" y1="461.28" x2="180.30" y2="516.80" stroke="#777" stroke-width="0.9" stroke-dasharray="1 1"/>
<line x1="93.85" y1="514.02" x2="93.85" y2="516.80" stroke="#000" stroke-width="1" />
<line x1="91.05" y1="514.02" x2="96.65" y2="514.02" stroke="#000" stroke-width="1" />
<line x1="91.05" y1="516.80" x2="96.65" y2="516.80" stroke="#000" stroke-width="1" />
<line x1="117.00" y1="513.33" x2="117.00" y2="516.11" stroke="#000" stroke-width="1" />
<line x1="114.20" y1="513.33" x2="119.80" y2="513.33" stroke="#000" stroke-width="1" />
<line x1="114.20" y1="516.11" x2="119.80" y2="516.11" stroke="#000" stroke-width="1" />
<line x1="170.75" y1="507.08" x2="170.75" y2="515.41" stroke="#000" stroke-width="1" />
<line x1="167.95" y1="507.08" x2="173.55" y2="507.08" stroke="#000" stroke-width="1" />
<line x1="167.95" y1="515.41" x2="173.55" y2="515.41" stroke="#000" stroke-width="1" />
<line x1="193.90" y1="511.25" x2="193.90" y2="516.80" stroke="#000" stroke-width="1" />
<line x1="191.10" y1="511.25" x2="196.70" y2="511.25" stroke="#000" stroke-width="1" />
<line x1="191.10" y1="516.80" x2="196.70" y2="516.80" stroke="#000" stroke-width="1" />
<line x1="217.05" y1="490.43" x2="217.05" y2="511.25" stroke="#000" stroke-width="1" />
<line x1="214.25" y1="490.43" x2="219.85" y2="490.43" stroke="#000" stroke-width="1" />
<line x1="214.25" y1="511.25" x2="219.85" y2="511.25" stroke="#000" stroke-width="1" />
<path d="M40.00,516.80 L93.85,515.41 L117.00,514.72 L170.75,511.25 L193.90,514.02 L217.05,500.14" stroke="#000" stroke-width="1" fill="none" />
<path d="M90.35,518.21 L97.35,518.21 L93.85,512.01 Z" fill="#000"/>
<path d="M113.50,517.52 L120.50,517.52 L117.00,511.32 Z" fill="#000"/>
<path d="M167.25,514.05 L174.25,514.05 L170.75,507.85 Z" fill="#000"/>
<path d="M190.40,516.82 L197.40,516.82 L193.90,510.62 Z" fill="#000"/>
<path d="M213.55,502.94 L220.55,502.94 L217.05,496.74 Z" fill="#000"/>
<line x1="93.85" y1="509.17" x2="93.85" y2="516.80" stroke="#000" stroke-width="1" />
<line x1="91.05" y1="509.17" x2="96.65" y2="509.17" stroke="#000" stroke-width="1" />
<line x1="91.05" y1="516.80" x2="96.65" y2="516.80" stroke="#000" stroke-width="1" />
<line x1="117.00" y1="509.86" x2="117.00" y2="516.80" stroke="#000" stroke-width="1" />
<line x1="114.20" y1="509.86" x2="119.80" y2="509.86" stroke="#000" stroke-width="1" />
<line x1="114.20" y1="516.80" x2="119.80" y2="516.80" stroke="#000" stroke-width="1" />
<line x1="170.75" y1="505.70" x2="170.75" y2="514.02" stroke="#000" stroke-width="1" />
<line x1="167.95" y1="505.70" x2="173.55" y2="505.70" stroke="#000" stroke-width="1" />
<line x1="167.95" y1="514.02" x2="173.55" y2="514.02" stroke="#000" stroke-width="1" />
<line x1="193.90" y1="501.53" x2="193.90" y2="512.64" stroke="#000" stroke-width="1" />
<line x1="191.10" y1="501.53" x2="196.70" y2="501.53" stroke="#000" stroke-width="1" />
<line x1="191.10" y1="512.64" x2="196.70" y2="512.64" stroke="#000" stroke-width="1" />
<line x1="217.05" y1="482.79" x2="217.05" y2="493.90" stroke="#000" stroke-width="1" />
<line x1="214.25" y1="482.79" x2="219.85" y2="482.79" stroke="#000" stroke-width="1" />
<line x1="214.25" y1="493.90" x2="219.85" y2="493.90" stroke="#000" stroke-width="1" />
<path d="M40.00,516.80 L93.85,514.02 L117.00,514.02 L170.75,509.86 L193.90,507.08 L217.05,488.35" stroke="#000" stroke-width="1" fill="none" />
<circle cx="93.85" cy="514.02" r="3.30" fill="#000"/>
<circle cx="117.00" cy="514.02" r="3.30" fill="#000"/>
<circle cx="170.75" cy="509.86" r="3.30" fill="#000"/>
<circle cx="193.90" cy="507.08" r="3.30" fill="#000"/>
<circle cx="217.05" cy="488.35" r="3.30" fill="#000"/>
<line x1="93.85" y1="506.39" x2="93.85" y2="515.41" stroke="#000" stroke-width="1" />
<line x1="91.05" y1="506.39" x2="96.65" y2="506.39" stroke="#000" stroke-width="1" />
<line x1="91.05" y1="515.41" x2="96.65" y2="515.41" stroke="#000" stroke-width="1" />
<line x1="117.00" y1="504.31" x2="117.00" y2="516.80" stroke="#000" stroke-width="1" />
<line x1="114.20" y1="504.31" x2="119.80" y2="504.31" stroke="#000" stroke-width="1" />
<line x1="114.20" y1="516.80" x2="119.80" y2="516.80" stroke="#000" stroke-width="1" />
<line x1="170.75" y1="500.14" x2="170.75" y2="512.64" stroke="#000" stroke-width="1" />
<line x1="167.95" y1="500.14" x2="173.55" y2="500.14" stroke="#000" stroke-width="1" />
<line x1="167.95" y1="512.64" x2="173.55" y2="512.64" stroke="#000" stroke-width="1" />
<line x1="193.90" y1="494.59" x2="193.90" y2="512.64" stroke="#000" stroke-width="1" />
<line x1="191.10" y1="494.59" x2="196.70" y2="494.59" stroke="#000" stroke-width="1" />
<line x1="191.10" y1="512.64" x2="196.70" y2="512.64" stroke="#000" stroke-width="1" />
<line x1="217.05" y1="479.32" x2="217.05" y2="491.82" stroke="#000" stroke-width="1" />
<line x1="214.25" y1="479.32" x2="219.85" y2="479.32" stroke="#000" stroke-width="1" />
<line x1="214.25" y1="491.82" x2="219.85" y2="491.82" stroke="#000" stroke-width="1" />
<path d="M40.00,516.80 L93.85,512.64 L117.00,511.25 L170.75,507.08 L193.90,505.70 L217.05,486.26" stroke="#000" stroke-width="1" fill="none" />
<rect x="36.90" y="513.70" width="6.2" height="6.2" fill="#000"/>
<rect x="90.75" y="509.54" width="6.2" height="6.2" fill="#000"/>
<rect x="113.90" y="508.15" width="6.2" height="6.2" fill="#000"/>
<rect x="167.65" y="503.98" width="6.2" height="6.2" fill="#000"/>
<rect x="190.80" y="502.60" width="6.2" height="6.2" fill="#000"/>
<rect x="213.95" y="483.16" width="6.2" height="6.2" fill="#000"/>
<line x1="93.85" y1="505.00" x2="93.85" y2="516.80" stroke="#000" stroke-width="1" />
<line x1="91.05" y1="505.00" x2="96.65" y2="505.00" stroke="#000" stroke-width="1" />
<line x1="91.05" y1="516.80" x2="96.65" y2="516.80" stroke="#000" stroke-width="1" />
<line x1="117.00" y1="502.92" x2="117.00" y2="516.80" stroke="#000" stroke-width="1" />
<line x1="114.20" y1="502.92" x2="119.80" y2="502.92" stroke="#000" stroke-width="1" />
<line x1="114.20" y1="516.80" x2="119.80" y2="516.80" stroke="#000" stroke-width="1" />
<line x1="170.75" y1="491.82" x2="170.75" y2="515.41" stroke="#000" stroke-width="1" />
<line x1="167.95" y1="491.82" x2="173.55" y2="491.82" stroke="#000" stroke-width="1" />
<line x1="167.95" y1="515.41" x2="173.55" y2="515.41" stroke="#000" stroke-width="1" />
<line x1="193.90" y1="486.54" x2="193.90" y2="511.11" stroke="#000" stroke-width="1" />
<line x1="191.10" y1="486.54" x2="196.70" y2="486.54" stroke="#000" stroke-width="1" />
<line x1="191.10" y1="511.11" x2="196.70" y2="511.11" stroke="#000" stroke-width="1" />
<line x1="217.05" y1="459.89" x2="217.05" y2="479.32" stroke="#000" stroke-width="1" />
<line x1="214.25" y1="459.89" x2="219.85" y2="459.89" stroke="#000" stroke-width="1" />
<line x1="214.25" y1="479.32" x2="219.85" y2="479.32" stroke="#000" stroke-width="1" />
<path d="M40.00,516.80 L93.85,513.33 L117.00,512.64 L170.75,505.70 L193.90,499.03 L217.05,469.61" stroke="#000" stroke-width="1" fill="none" />
<path d="M90.35,510.53 L97.35,510.53 L93.85,516.73 Z" fill="#000"/>
<path d="M113.50,509.84 L120.50,509.84 L117.00,516.04 Z" fill="#000"/>
<path d="M167.25,502.90 L174.25,502.90 L170.75,509.10 Z" fill="#000"/>
<path d="M190.40,496.23 L197.40,496.23 L193.90,502.43 Z" fill="#000"/>
<path d="M213.55,466.81 L220.55,466.81 L217.05,473.01 Z" fill="#000"/>
<line x1="39.60" y1="377.20" x2="39.60" y2="516.80" stroke="#000" stroke-width="1.6" />
<line x1="34.10" y1="516.80" x2="39.60" y2="516.80" stroke="#000" stroke-width="1.6" />
<text x="32.60" y="520.40" font-size="10" font-weight="bold" text-anchor="end" >0</text>
<line x1="34.10" y1="489.04" x2="39.60" y2="489.04" stroke="#000" stroke-width="1.6" />
<text x="32.60" y="492.64" font-size="10" font-weight="bold" text-anchor="end" >20</text>
<line x1="34.10" y1="461.28" x2="39.60" y2="461.28" stroke="#000" stroke-width="1.6" />
<text x="32.60" y="464.88" font-size="10" font-weight="bold" text-anchor="end" >40</text>
<line x1="34.10" y1="433.52" x2="39.60" y2="433.52" stroke="#000" stroke-width="1.6" />
<text x="32.60" y="437.12" font-size="10" font-weight="bold" text-anchor="end" >60</text>
<line x1="34.10" y1="405.76" x2="39.60" y2="405.76" stroke="#000" stroke-width="1.6" />
<text x="32.60" y="409.36" font-size="10" font-weight="bold" text-anchor="end" >80</text>
<line x1="34.10" y1="378.00" x2="39.60" y2="378.00" stroke="#000" stroke-width="1.6" />
<text x="32.60" y="381.60" font-size="10" font-weight="bold" text-anchor="end" >100</text>
<line x1="38.80" y1="516.80" x2="249.20" y2="516.80" stroke="#000" stroke-width="1.6" />
<line x1="40.00" y1="516.80" x2="40.00" y2="523.00" stroke="#000" stroke-width="1.6" />
<text x="40.00" y="535.20" font-size="10" font-weight="bold" text-anchor="middle" >0</text>
<line x1="117.00" y1="516.80" x2="117.00" y2="523.00" stroke="#000" stroke-width="1.6" />
<text x="117.00" y="535.20" font-size="10" font-weight="bold" text-anchor="middle" >1</text>
<line x1="193.90" y1="516.80" x2="193.90" y2="523.00" stroke="#000" stroke-width="1.6" />
<text x="193.90" y="535.20" font-size="10" font-weight="bold" text-anchor="middle" >10</text>
<line x1="63.18" y1="516.80" x2="63.18" y2="520.20" stroke="#000" stroke-width="1.2" />
<line x1="76.74" y1="516.80" x2="76.74" y2="520.20" stroke="#000" stroke-width="1.2" />
<line x1="86.36" y1="516.80" x2="86.36" y2="520.20" stroke="#000" stroke-width="1.2" />
<line x1="93.82" y1="516.80" x2="93.82" y2="520.20" stroke="#000" stroke-width="1.2" />
<line x1="99.92" y1="516.80" x2="99.92" y2="520.20" stroke="#000" stroke-width="1.2" />
<line x1="105.07" y1="516.80" x2="105.07" y2="520.20" stroke="#000" stroke-width="1.2" />
<line x1="109.54" y1="516.80" x2="109.54" y2="520.20" stroke="#000" stroke-width="1.2" />
<line x1="113.48" y1="516.80" x2="113.48" y2="520.20" stroke="#000" stroke-width="1.2" />
<line x1="140.15" y1="516.80" x2="140.15" y2="520.20" stroke="#000" stroke-width="1.2" />
<line x1="153.69" y1="516.80" x2="153.69" y2="520.20" stroke="#000" stroke-width="1.2" />
<line x1="163.30" y1="516.80" x2="163.30" y2="520.20" stroke="#000" stroke-width="1.2" />
<line x1="170.75" y1="516.80" x2="170.75" y2="520.20" stroke="#000" stroke-width="1.2" />
<line x1="176.84" y1="516.80" x2="176.84" y2="520.20" stroke="#000" stroke-width="1.2" />
<line x1="181.99" y1="516.80" x2="181.99" y2="520.20" stroke="#000" stroke-width="1.2" />
<line x1="186.45" y1="516.80" x2="186.45" y2="520.20" stroke="#000" stroke-width="1.2" />
<line x1="190.38" y1="516.80" x2="190.38" y2="520.20" stroke="#000" stroke-width="1.2" />
<line x1="217.05" y1="516.80" x2="217.05" y2="520.20" stroke="#000" stroke-width="1.2" />
<line x1="230.59" y1="516.80" x2="230.59" y2="520.20" stroke="#000" stroke-width="1.2" />
<line x1="240.20" y1="516.80" x2="240.20" y2="520.20" stroke="#000" stroke-width="1.2" />
<line x1="247.65" y1="516.80" x2="247.65" y2="520.20" stroke="#000" stroke-width="1.2" />
<text transform="translate(9.00,444.20) rotate(-90)" x="0" y="0" font-size="11.5" font-weight="bold" text-anchor="middle" textLength="109.8" lengthAdjust="spacingAndGlyphs">% DEAD (minus ctrl)</text>
<text x="143.90" y="550.00" font-size="11.2" font-weight="bold" text-anchor="middle" textLength="69.60" lengthAdjust="spacingAndGlyphs" >LCL161 [μM]</text>
<line x1="253.90" y1="387.20" x2="268.50" y2="387.20" stroke="#000" stroke-width="1" />
<rect x="258.10" y="384.10" width="6.2" height="6.2" fill="#000"/>
<text x="278.00" y="391.20" font-size="11" fill="#111" textLength="31.00" lengthAdjust="spacingAndGlyphs" >THP-1</text>
<line x1="253.90" y1="406.00" x2="268.50" y2="406.00" stroke="#000" stroke-width="1" />
<path d="M257.70,403.20 L264.70,403.20 L261.20,409.40 Z" fill="#000"/>
<text x="278.00" y="410.00" font-size="11" fill="#111" textLength="31.20" lengthAdjust="spacingAndGlyphs" >HL-60</text>
<line x1="253.90" y1="423.20" x2="268.50" y2="423.20" stroke="#000" stroke-width="1" />
<circle cx="261.20" cy="423.20" r="3.30" fill="#000"/>
<text x="278.00" y="427.20" font-size="11" fill="#111" textLength="25.00" lengthAdjust="spacingAndGlyphs" >KG-1</text>
<line x1="253.90" y1="440.10" x2="268.50" y2="440.10" stroke="#000" stroke-width="1" />
<path d="M257.70,442.90 L264.70,442.90 L261.20,436.70 Z" fill="#000"/>
<text x="278.00" y="444.10" font-size="11" fill="#111" textLength="52.60" lengthAdjust="spacingAndGlyphs" >KASUMI-1</text>
<rect x="394.20" y="462.30" width="145.20" height="54.50" fill="#e6e6e6"/>
<line x1="394.20" y1="462.30" x2="539.40" y2="462.30" stroke="#777" stroke-width="0.9" stroke-dasharray="1 1"/>
<line x1="539.40" y1="462.30" x2="539.40" y2="516.80" stroke="#777" stroke-width="0.9" stroke-dasharray="1 1"/>
<path d="M394.20,518.60 L466.69,517.48 L498.00,516.07 L539.39,514.67 L556.00,518.50" stroke="#000" stroke-width="1" fill="none" />
<circle cx="466.69" cy="517.48" r="3.30" fill="#000"/>
<circle cx="498.00" cy="516.07" r="3.30" fill="#000"/>
<circle cx="539.39" cy="514.67" r="3.30" fill="#000"/>
<line x1="466.69" y1="507.37" x2="466.69" y2="510.18" stroke="#000" stroke-width="1" />
<line x1="463.89" y1="507.37" x2="469.49" y2="507.37" stroke="#000" stroke-width="1" />
<line x1="463.89" y1="510.18" x2="469.49" y2="510.18" stroke="#000" stroke-width="1" />
<line x1="498.00" y1="504.84" x2="498.00" y2="507.65" stroke="#000" stroke-width="1" />
<line x1="495.20" y1="504.84" x2="500.80" y2="504.84" stroke="#000" stroke-width="1" />
<line x1="495.20" y1="507.65" x2="500.80" y2="507.65" stroke="#000" stroke-width="1" />
<line x1="539.39" y1="512.98" x2="539.39" y2="515.79" stroke="#000" stroke-width="1" />
<line x1="536.59" y1="512.98" x2="542.19" y2="512.98" stroke="#000" stroke-width="1" />
<line x1="536.59" y1="515.79" x2="542.19" y2="515.79" stroke="#000" stroke-width="1" />
<line x1="570.69" y1="490.80" x2="570.69" y2="504.84" stroke="#000" stroke-width="1" />
<line x1="567.89" y1="490.80" x2="573.49" y2="490.80" stroke="#000" stroke-width="1" />
<line x1="567.89" y1="504.84" x2="573.49" y2="504.84" stroke="#000" stroke-width="1" />
<line x1="602.00" y1="498.24" x2="602.00" y2="503.86" stroke="#000" stroke-width="1" />
<line x1="599.20" y1="498.24" x2="604.80" y2="498.24" stroke="#000" stroke-width="1" />
<line x1="599.20" y1="503.86" x2="604.80" y2="503.86" stroke="#000" stroke-width="1" />
<path d="M394.20,518.60 L466.69,508.77 L498.00,506.24 L539.39,514.39 L570.69,497.82 L602.00,501.05" stroke="#000" stroke-width="1" fill="none" />
<path d="M463.19,511.57 L470.19,511.57 L466.69,505.37 Z" fill="#000"/>
<path d="M494.50,509.04 L501.50,509.04 L498.00,502.84 Z" fill="#000"/>
<path d="M535.89,517.19 L542.89,517.19 L539.39,510.99 Z" fill="#000"/>
<path d="M567.19,500.62 L574.19,500.62 L570.69,494.42 Z" fill="#000"/>
<path d="M598.50,503.85 L605.50,503.85 L602.00,497.65 Z" fill="#000"/>
<line x1="498.00" y1="512.98" x2="498.00" y2="515.79" stroke="#000" stroke-width="1" />
<line x1="495.20" y1="512.98" x2="500.80" y2="512.98" stroke="#000" stroke-width="1" />
<line x1="495.20" y1="515.79" x2="500.80" y2="515.79" stroke="#000" stroke-width="1" />
<line x1="539.39" y1="492.63" x2="539.39" y2="509.47" stroke="#000" stroke-width="1" />
<line x1="536.59" y1="492.63" x2="542.19" y2="492.63" stroke="#000" stroke-width="1" />
<line x1="536.59" y1="509.47" x2="542.19" y2="509.47" stroke="#000" stroke-width="1" />
<line x1="570.69" y1="431.83" x2="570.69" y2="434.64" stroke="#000" stroke-width="1" />
<line x1="567.89" y1="431.83" x2="573.49" y2="431.83" stroke="#000" stroke-width="1" />
<line x1="567.89" y1="434.64" x2="573.49" y2="434.64" stroke="#000" stroke-width="1" />
<line x1="602.00" y1="396.73" x2="602.00" y2="399.54" stroke="#000" stroke-width="1" />
<line x1="599.20" y1="396.73" x2="604.80" y2="396.73" stroke="#000" stroke-width="1" />
<line x1="599.20" y1="399.54" x2="604.80" y2="399.54" stroke="#000" stroke-width="1" />
<path d="M394.20,518.60 L466.69,517.20 L498.00,514.39 L539.39,501.05 L570.69,433.24 L602.00,398.14" stroke="#000" stroke-width="1" fill="none" />
<rect x="463.59" y="514.10" width="6.2" height="6.2" fill="#000"/>
<rect x="494.90" y="511.29" width="6.2" height="6.2" fill="#000"/>
<rect x="536.29" y="497.95" width="6.2" height="6.2" fill="#000"/>
<rect x="567.59" y="430.14" width="6.2" height="6.2" fill="#000"/>
<rect x="598.90" y="395.04" width="6.2" height="6.2" fill="#000"/>
<line x1="466.69" y1="484.34" x2="466.69" y2="495.57" stroke="#000" stroke-width="1" />
<line x1="463.89" y1="484.34" x2="469.49" y2="484.34" stroke="#000" stroke-width="1" />
<line x1="463.89" y1="495.57" x2="469.49" y2="495.57" stroke="#000" stroke-width="1" />
<line x1="498.00" y1="477.32" x2="498.00" y2="481.53" stroke="#000" stroke-width="1" />
<line x1="495.20" y1="477.32" x2="500.80" y2="477.32" stroke="#000" stroke-width="1" />
<line x1="495.20" y1="481.53" x2="500.80" y2="481.53" stroke="#000" stroke-width="1" />
<line x1="539.39" y1="470.30" x2="539.39" y2="484.34" stroke="#000" stroke-width="1" />
<line x1="536.59" y1="470.30" x2="542.19" y2="470.30" stroke="#000" stroke-width="1" />
<line x1="536.59" y1="484.34" x2="542.19" y2="484.34" stroke="#000" stroke-width="1" />
<line x1="570.69" y1="440.40" x2="570.69" y2="448.82" stroke="#000" stroke-width="1" />
<line x1="567.89" y1="440.40" x2="573.49" y2="440.40" stroke="#000" stroke-width="1" />
<line x1="567.89" y1="448.82" x2="573.49" y2="448.82" stroke="#000" stroke-width="1" />
<line x1="602.00" y1="413.86" x2="602.00" y2="454.58" stroke="#000" stroke-width="1" />
<line x1="599.20" y1="413.86" x2="604.80" y2="413.86" stroke="#000" stroke-width="1" />
<line x1="599.20" y1="454.58" x2="604.80" y2="454.58" stroke="#000" stroke-width="1" />
<path d="M394.20,518.60 L466.69,489.96 L498.00,479.43 L539.39,477.32 L570.69,444.61 L602.00,434.92" stroke="#000" stroke-width="1" fill="none" />
<path d="M463.19,487.16 L470.19,487.16 L466.69,493.36 Z" fill="#000"/>
<path d="M494.50,476.63 L501.50,476.63 L498.00,482.83 Z" fill="#000"/>
<path d="M535.89,474.52 L542.89,474.52 L539.39,480.72 Z" fill="#000"/>
<path d="M567.19,441.81 L574.19,441.81 L570.69,448.01 Z" fill="#000"/>
<path d="M598.50,432.12 L605.50,432.12 L602.00,438.32 Z" fill="#000"/>
<rect x="395.2" y="517.5999999999999" width="215" height="3" fill="#fff"/>
<line x1="394.20" y1="377.40" x2="394.20" y2="516.80" stroke="#000" stroke-width="1.6" />
<line x1="388.70" y1="490.52" x2="394.20" y2="490.52" stroke="#000" stroke-width="1.6" />
<text x="386.20" y="494.62" font-size="10" font-weight="bold" text-anchor="end" >20</text>
<line x1="388.70" y1="462.44" x2="394.20" y2="462.44" stroke="#000" stroke-width="1.6" />
<text x="386.20" y="466.54" font-size="10" font-weight="bold" text-anchor="end" >40</text>
<line x1="388.70" y1="434.36" x2="394.20" y2="434.36" stroke="#000" stroke-width="1.6" />
<text x="386.20" y="438.46" font-size="10" font-weight="bold" text-anchor="end" >60</text>
<line x1="388.70" y1="406.28" x2="394.20" y2="406.28" stroke="#000" stroke-width="1.6" />
<text x="386.20" y="410.38" font-size="10" font-weight="bold" text-anchor="end" >80</text>
<line x1="388.70" y1="378.20" x2="394.20" y2="378.20" stroke="#000" stroke-width="1.6" />
<text x="386.20" y="382.30" font-size="10" font-weight="bold" text-anchor="end" >100</text>
<line x1="393.40" y1="516.80" x2="602.80" y2="516.80" stroke="#000" stroke-width="1.6" />
<line x1="394.20" y1="516.80" x2="394.20" y2="523.00" stroke="#000" stroke-width="1.6" />
<text x="394.20" y="535.20" font-size="10" font-weight="bold" text-anchor="middle" >0</text>
<line x1="498.00" y1="516.80" x2="498.00" y2="523.00" stroke="#000" stroke-width="1.6" />
<text x="498.00" y="535.20" font-size="10" font-weight="bold" text-anchor="middle" >1</text>
<line x1="602.00" y1="516.80" x2="602.00" y2="523.00" stroke="#000" stroke-width="1.6" />
<text x="602.00" y="535.20" font-size="10" font-weight="bold" text-anchor="middle" >10</text>
<line x1="425.31" y1="516.80" x2="425.31" y2="520.20" stroke="#000" stroke-width="1.2" />
<line x1="443.62" y1="516.80" x2="443.62" y2="520.20" stroke="#000" stroke-width="1.2" />
<line x1="456.61" y1="516.80" x2="456.61" y2="520.20" stroke="#000" stroke-width="1.2" />
<line x1="466.69" y1="516.80" x2="466.69" y2="520.20" stroke="#000" stroke-width="1.2" />
<line x1="474.93" y1="516.80" x2="474.93" y2="520.20" stroke="#000" stroke-width="1.2" />
<line x1="481.89" y1="516.80" x2="481.89" y2="520.20" stroke="#000" stroke-width="1.2" />
<line x1="487.92" y1="516.80" x2="487.92" y2="520.20" stroke="#000" stroke-width="1.2" />
<line x1="493.24" y1="516.80" x2="493.24" y2="520.20" stroke="#000" stroke-width="1.2" />
<line x1="529.31" y1="516.80" x2="529.31" y2="520.20" stroke="#000" stroke-width="1.2" />
<line x1="547.62" y1="516.80" x2="547.62" y2="520.20" stroke="#000" stroke-width="1.2" />
<line x1="560.61" y1="516.80" x2="560.61" y2="520.20" stroke="#000" stroke-width="1.2" />
<line x1="570.69" y1="516.80" x2="570.69" y2="520.20" stroke="#000" stroke-width="1.2" />
<line x1="578.93" y1="516.80" x2="578.93" y2="520.20" stroke="#000" stroke-width="1.2" />
<line x1="585.89" y1="516.80" x2="585.89" y2="520.20" stroke="#000" stroke-width="1.2" />
<line x1="591.92" y1="516.80" x2="591.92" y2="520.20" stroke="#000" stroke-width="1.2" />
<line x1="597.24" y1="516.80" x2="597.24" y2="520.20" stroke="#000" stroke-width="1.2" />
<text transform="translate(363.00,447.70) rotate(-90)" x="0" y="0" font-size="11.5" font-weight="bold" text-anchor="middle" textLength="110.6" lengthAdjust="spacingAndGlyphs">% DEAD (minus ctrl)</text>
<text x="498.00" y="550.80" font-size="11.2" font-weight="bold" text-anchor="middle" textLength="52.20" lengthAdjust="spacingAndGlyphs" >BV-6 [μM]</text>
<line x1="609.10" y1="387.70" x2="623.70" y2="387.70" stroke="#000" stroke-width="1" />
<rect x="613.30" y="384.60" width="6.2" height="6.2" fill="#000"/>
<text x="633.10" y="391.70" font-size="11" fill="#111" textLength="31.00" lengthAdjust="spacingAndGlyphs" >THP-1</text>
<line x1="609.10" y1="403.30" x2="623.70" y2="403.30" stroke="#000" stroke-width="1" />
<path d="M612.90,400.50 L619.90,400.50 L616.40,406.70 Z" fill="#000"/>
<text x="633.10" y="407.30" font-size="11" fill="#111" textLength="31.20" lengthAdjust="spacingAndGlyphs" >HL-60</text>
<line x1="609.10" y1="419.00" x2="623.70" y2="419.00" stroke="#000" stroke-width="1" />
<circle cx="616.40" cy="419.00" r="3.30" fill="#000"/>
<text x="633.10" y="423.00" font-size="11" fill="#111" textLength="25.00" lengthAdjust="spacingAndGlyphs" >KG-1</text>
<line x1="609.10" y1="434.80" x2="623.70" y2="434.80" stroke="#000" stroke-width="1" />
<path d="M612.90,437.60 L619.90,437.60 L616.40,431.40 Z" fill="#000"/>
<text x="633.10" y="438.80" font-size="11" fill="#111" textLength="52.60" lengthAdjust="spacingAndGlyphs" >KASUMI-1</text>
<text x="0.60" y="580.80" font-size="16" font-weight="bold" >c</text>
<text x="325.70" y="580.20" font-size="13.2" font-weight="bold" text-anchor="middle" textLength="90.00" lengthAdjust="spacingAndGlyphs" >BH3 mimetics</text>
<text x="0.20" y="599.30" font-size="13.8" textLength="12.30" lengthAdjust="spacingAndGlyphs" >(i)</text>
<text x="352.20" y="599.30" font-size="13.8" textLength="15.20" lengthAdjust="spacingAndGlyphs" >(ii)</text>
<rect x="41.40" y="689.86" width="51.70" height="55.24" fill="#e6e6e6"/>
<line x1="41.40" y1="689.86" x2="93.10" y2="689.86" stroke="#9a9a9a" stroke-width="0.9" stroke-dasharray="1 1"/>
<line x1="93.10" y1="689.86" x2="93.10" y2="745.10" stroke="#9a9a9a" stroke-width="0.9" stroke-dasharray="1 1"/>
<line x1="93.50" y1="739.04" x2="93.50" y2="744.64" stroke="#a30a0e" stroke-width="1" />
<line x1="90.70" y1="739.04" x2="96.30" y2="739.04" stroke="#a30a0e" stroke-width="1" />
<line x1="90.70" y1="744.64" x2="96.30" y2="744.64" stroke="#a30a0e" stroke-width="1" />
<line x1="145.35" y1="733.57" x2="145.35" y2="739.88" stroke="#a30a0e" stroke-width="1" />
<line x1="142.55" y1="733.57" x2="148.15" y2="733.57" stroke="#a30a0e" stroke-width="1" />
<line x1="142.55" y1="739.88" x2="148.15" y2="739.88" stroke="#a30a0e" stroke-width="1" />
<line x1="181.59" y1="724.88" x2="181.59" y2="734.83" stroke="#a30a0e" stroke-width="1" />
<line x1="178.79" y1="724.88" x2="184.39" y2="724.88" stroke="#a30a0e" stroke-width="1" />
<line x1="178.79" y1="734.83" x2="184.39" y2="734.83" stroke="#a30a0e" stroke-width="1" />
<line x1="197.20" y1="722.78" x2="197.20" y2="725.59" stroke="#a30a0e" stroke-width="1" />
<line x1="194.40" y1="722.78" x2="200.00" y2="722.78" stroke="#a30a0e" stroke-width="1" />
<line x1="194.40" y1="725.59" x2="200.00" y2="725.59" stroke="#a30a0e" stroke-width="1" />
<line x1="233.44" y1="651.05" x2="233.44" y2="664.78" stroke="#a30a0e" stroke-width="1" />
<line x1="230.64" y1="651.05" x2="236.24" y2="651.05" stroke="#a30a0e" stroke-width="1" />
<line x1="230.64" y1="664.78" x2="236.24" y2="664.78" stroke="#a30a0e" stroke-width="1" />
<path d="M41.60,745.90 L93.50,741.84 L145.35,736.65 L181.59,729.93 L197.20,724.18 L233.44,657.78" stroke="#a30a0e" stroke-width="1" fill="none" />
<rect x="90.40" y="738.74" width="6.2" height="6.2" fill="#a30a0e"/>
<rect x="142.25" y="733.55" width="6.2" height="6.2" fill="#a30a0e"/>
<rect x="178.49" y="726.83" width="6.2" height="6.2" fill="#a30a0e"/>
<rect x="194.10" y="721.08" width="6.2" height="6.2" fill="#a30a0e"/>
<rect x="230.34" y="654.68" width="6.2" height="6.2" fill="#a30a0e"/>
<line x1="93.50" y1="721.52" x2="93.50" y2="741.14" stroke="#a30a0e" stroke-width="1" />
<line x1="90.70" y1="721.52" x2="96.30" y2="721.52" stroke="#a30a0e" stroke-width="1" />
<line x1="90.70" y1="741.14" x2="96.30" y2="741.14" stroke="#a30a0e" stroke-width="1" />
<line x1="145.35" y1="724.88" x2="145.35" y2="734.83" stroke="#a30a0e" stroke-width="1" />
<line x1="142.55" y1="724.88" x2="148.15" y2="724.88" stroke="#a30a0e" stroke-width="1" />
<line x1="142.55" y1="734.83" x2="148.15" y2="734.83" stroke="#a30a0e" stroke-width="1" />
<line x1="181.59" y1="713.68" x2="181.59" y2="723.62" stroke="#a30a0e" stroke-width="1" />
<line x1="178.79" y1="713.68" x2="184.39" y2="713.68" stroke="#a30a0e" stroke-width="1" />
<line x1="178.79" y1="723.62" x2="184.39" y2="723.62" stroke="#a30a0e" stroke-width="1" />
<line x1="197.20" y1="707.23" x2="197.20" y2="712.28" stroke="#a30a0e" stroke-width="1" />
<line x1="194.40" y1="707.23" x2="200.00" y2="707.23" stroke="#a30a0e" stroke-width="1" />
<line x1="194.40" y1="712.28" x2="200.00" y2="712.28" stroke="#a30a0e" stroke-width="1" />
<line x1="233.44" y1="668.70" x2="233.44" y2="684.82" stroke="#a30a0e" stroke-width="1" />
<line x1="230.64" y1="668.70" x2="236.24" y2="668.70" stroke="#a30a0e" stroke-width="1" />
<line x1="230.64" y1="684.82" x2="236.24" y2="684.82" stroke="#a30a0e" stroke-width="1" />
<path d="M41.60,745.90 L93.50,732.73 L145.35,730.35 L181.59,718.58 L197.20,709.75 L233.44,678.51" stroke="#a30a0e" stroke-width="1" fill="none" />
<circle cx="93.50" cy="732.73" r="3.30" fill="#a30a0e"/>
<circle cx="145.35" cy="730.35" r="3.30" fill="#a30a0e"/>
<circle cx="181.59" cy="718.58" r="3.30" fill="#a30a0e"/>
<circle cx="197.20" cy="709.75" r="3.30" fill="#a30a0e"/>
<circle cx="233.44" cy="678.51" r="3.30" fill="#a30a0e"/>
<line x1="93.50" y1="709.19" x2="93.50" y2="720.40" stroke="#a30a0e" stroke-width="1" />
<line x1="90.70" y1="709.19" x2="96.30" y2="709.19" stroke="#a30a0e" stroke-width="1" />
<line x1="90.70" y1="720.40" x2="96.30" y2="720.40" stroke="#a30a0e" stroke-width="1" />
<line x1="145.35" y1="684.26" x2="145.35" y2="712.28" stroke="#a30a0e" stroke-width="1" />
<line x1="142.55" y1="684.26" x2="148.15" y2="684.26" stroke="#a30a0e" stroke-width="1" />
<line x1="142.55" y1="712.28" x2="148.15" y2="712.28" stroke="#a30a0e" stroke-width="1" />
<line x1="181.59" y1="681.31" x2="181.59" y2="698.55" stroke="#a30a0e" stroke-width="1" />
<line x1="178.79" y1="681.31" x2="184.39" y2="681.31" stroke="#a30a0e" stroke-width="1" />
<line x1="178.79" y1="698.55" x2="184.39" y2="698.55" stroke="#a30a0e" stroke-width="1" />
<line x1="197.20" y1="681.03" x2="197.20" y2="688.60" stroke="#a30a0e" stroke-width="1" />
<line x1="194.40" y1="681.03" x2="200.00" y2="681.03" stroke="#a30a0e" stroke-width="1" />
<line x1="194.40" y1="688.60" x2="200.00" y2="688.60" stroke="#a30a0e" stroke-width="1" />
<line x1="233.44" y1="674.45" x2="233.44" y2="694.34" stroke="#a30a0e" stroke-width="1" />
<line x1="230.64" y1="674.45" x2="236.24" y2="674.45" stroke="#a30a0e" stroke-width="1" />
<line x1="230.64" y1="694.34" x2="236.24" y2="694.34" stroke="#a30a0e" stroke-width="1" />
<path d="M41.60,745.90 L93.50,714.80 L145.35,698.55 L181.59,690.28 L197.20,685.38 L233.44,683.56" stroke="#a30a0e" stroke-width="1" fill="none" />
<path d="M90.00,717.60 L97.00,717.60 L93.50,711.40 Z" fill="#a30a0e"/>
<path d="M141.85,701.35 L148.85,701.35 L145.35,695.15 Z" fill="#a30a0e"/>
<path d="M178.09,693.08 L185.09,693.08 L181.59,686.88 Z" fill="#a30a0e"/>
<path d="M193.70,688.18 L200.70,688.18 L197.20,681.98 Z" fill="#a30a0e"/>
<path d="M229.94,686.36 L236.94,686.36 L233.44,680.16 Z" fill="#a30a0e"/>
<line x1="93.50" y1="697.29" x2="93.50" y2="709.75" stroke="#a30a0e" stroke-width="1" />
<line x1="90.70" y1="697.29" x2="96.30" y2="697.29" stroke="#a30a0e" stroke-width="1" />
<line x1="90.70" y1="709.75" x2="96.30" y2="709.75" stroke="#a30a0e" stroke-width="1" />
<line x1="145.35" y1="649.79" x2="145.35" y2="664.78" stroke="#a30a0e" stroke-width="1" />
<line x1="142.55" y1="649.79" x2="148.15" y2="649.79" stroke="#a30a0e" stroke-width="1" />
<line x1="142.55" y1="664.78" x2="148.15" y2="664.78" stroke="#a30a0e" stroke-width="1" />
<line x1="181.59" y1="644.75" x2="181.59" y2="660.16" stroke="#a30a0e" stroke-width="1" />
<line x1="178.79" y1="644.75" x2="184.39" y2="644.75" stroke="#a30a0e" stroke-width="1" />
<line x1="178.79" y1="660.16" x2="184.39" y2="660.16" stroke="#a30a0e" stroke-width="1" />
<line x1="197.20" y1="640.54" x2="197.20" y2="655.26" stroke="#a30a0e" stroke-width="1" />
<line x1="194.40" y1="640.54" x2="200.00" y2="640.54" stroke="#a30a0e" stroke-width="1" />
<line x1="194.40" y1="655.26" x2="200.00" y2="655.26" stroke="#a30a0e" stroke-width="1" />
<line x1="233.44" y1="638.58" x2="233.44" y2="653.57" stroke="#a30a0e" stroke-width="1" />
<line x1="230.64" y1="638.58" x2="236.24" y2="638.58" stroke="#a30a0e" stroke-width="1" />
<line x1="230.64" y1="653.57" x2="236.24" y2="653.57" stroke="#a30a0e" stroke-width="1" />
<path d="M41.60,745.90 L93.50,703.59 L145.35,656.80 L181.59,652.31 L197.20,647.83 L233.44,646.29" stroke="#a30a0e" stroke-width="1" fill="none" />
<path d="M90.00,700.79 L97.00,700.79 L93.50,706.99 Z" fill="#a30a0e"/>
<path d="M141.85,654.00 L148.85,654.00 L145.35,660.20 Z" fill="#a30a0e"/>
<path d="M178.09,649.51 L185.09,649.51 L181.59,655.71 Z" fill="#a30a0e"/>
<path d="M193.70,645.03 L200.70,645.03 L197.20,651.23 Z" fill="#a30a0e"/>
<path d="M229.94,643.49 L236.94,643.49 L233.44,649.69 Z" fill="#a30a0e"/>
<line x1="41.40" y1="605.00" x2="41.40" y2="745.10" stroke="#000" stroke-width="1.6" />
<line x1="35.90" y1="717.88" x2="41.40" y2="717.88" stroke="#000" stroke-width="1.6" />
<text x="33.60" y="722.38" font-size="10" font-weight="bold" text-anchor="end" >20</text>
<line x1="35.90" y1="689.86" x2="41.40" y2="689.86" stroke="#000" stroke-width="1.6" />
<text x="33.60" y="694.36" font-size="10" font-weight="bold" text-anchor="end" >40</text>
<line x1="35.90" y1="661.84" x2="41.40" y2="661.84" stroke="#000" stroke-width="1.6" />
<text x="33.60" y="666.34" font-size="10" font-weight="bold" text-anchor="end" >60</text>
<line x1="35.90" y1="633.82" x2="41.40" y2="633.82" stroke="#000" stroke-width="1.6" />
<text x="33.60" y="638.32" font-size="10" font-weight="bold" text-anchor="end" >80</text>
<line x1="35.90" y1="605.80" x2="41.40" y2="605.80" stroke="#000" stroke-width="1.6" />
<text x="33.60" y="610.30" font-size="10" font-weight="bold" text-anchor="end" >100</text>
<line x1="40.60" y1="745.10" x2="249.70" y2="745.10" stroke="#000" stroke-width="1.6" />
<line x1="41.60" y1="745.10" x2="41.60" y2="751.30" stroke="#000" stroke-width="1.6" />
<text x="41.60" y="763.30" font-size="10" font-weight="bold" text-anchor="middle" >0</text>
<line x1="93.10" y1="745.10" x2="93.10" y2="751.30" stroke="#000" stroke-width="1.6" />
<text x="93.10" y="763.30" font-size="10" font-weight="bold" text-anchor="middle" >0.01</text>
<line x1="145.20" y1="745.10" x2="145.20" y2="751.30" stroke="#000" stroke-width="1.6" />
<text x="145.20" y="763.30" font-size="10" font-weight="bold" text-anchor="middle" >0.1</text>
<line x1="197.20" y1="745.10" x2="197.20" y2="751.30" stroke="#000" stroke-width="1.6" />
<text x="197.20" y="763.30" font-size="10" font-weight="bold" text-anchor="middle" >1</text>
<line x1="248.90" y1="745.10" x2="248.90" y2="751.30" stroke="#000" stroke-width="1.6" />
<text x="248.90" y="763.30" font-size="10" font-weight="bold" text-anchor="middle" >10</text>
<line x1="57.26" y1="745.10" x2="57.26" y2="748.50" stroke="#000" stroke-width="1.2" />
<line x1="66.39" y1="745.10" x2="66.39" y2="748.50" stroke="#000" stroke-width="1.2" />
<line x1="72.87" y1="745.10" x2="72.87" y2="748.50" stroke="#000" stroke-width="1.2" />
<line x1="77.89" y1="745.10" x2="77.89" y2="748.50" stroke="#000" stroke-width="1.2" />
<line x1="82.00" y1="745.10" x2="82.00" y2="748.50" stroke="#000" stroke-width="1.2" />
<line x1="85.47" y1="745.10" x2="85.47" y2="748.50" stroke="#000" stroke-width="1.2" />
<line x1="88.48" y1="745.10" x2="88.48" y2="748.50" stroke="#000" stroke-width="1.2" />
<line x1="91.13" y1="745.10" x2="91.13" y2="748.50" stroke="#000" stroke-width="1.2" />
<line x1="109.11" y1="745.10" x2="109.11" y2="748.50" stroke="#000" stroke-width="1.2" />
<line x1="118.24" y1="745.10" x2="118.24" y2="748.50" stroke="#000" stroke-width="1.2" />
<line x1="124.72" y1="745.10" x2="124.72" y2="748.50" stroke="#000" stroke-width="1.2" />
<line x1="129.74" y1="745.10" x2="129.74" y2="748.50" stroke="#000" stroke-width="1.2" />
<line x1="133.85" y1="745.10" x2="133.85" y2="748.50" stroke="#000" stroke-width="1.2" />
<line x1="137.32" y1="745.10" x2="137.32" y2="748.50" stroke="#000" stroke-width="1.2" />
<line x1="140.33" y1="745.10" x2="140.33" y2="748.50" stroke="#000" stroke-width="1.2" />
<line x1="142.98" y1="745.10" x2="142.98" y2="748.50" stroke="#000" stroke-width="1.2" />
<line x1="160.96" y1="745.10" x2="160.96" y2="748.50" stroke="#000" stroke-width="1.2" />
<line x1="170.09" y1="745.10" x2="170.09" y2="748.50" stroke="#000" stroke-width="1.2" />
<line x1="176.57" y1="745.10" x2="176.57" y2="748.50" stroke="#000" stroke-width="1.2" />
<line x1="181.59" y1="745.10" x2="181.59" y2="748.50" stroke="#000" stroke-width="1.2" />
<line x1="185.70" y1="745.10" x2="185.70" y2="748.50" stroke="#000" stroke-width="1.2" />
<line x1="189.17" y1="745.10" x2="189.17" y2="748.50" stroke="#000" stroke-width="1.2" />
<line x1="192.18" y1="745.10" x2="192.18" y2="748.50" stroke="#000" stroke-width="1.2" />
<line x1="194.83" y1="745.10" x2="194.83" y2="748.50" stroke="#000" stroke-width="1.2" />
<line x1="212.81" y1="745.10" x2="212.81" y2="748.50" stroke="#000" stroke-width="1.2" />
<line x1="221.94" y1="745.10" x2="221.94" y2="748.50" stroke="#000" stroke-width="1.2" />
<line x1="228.42" y1="745.10" x2="228.42" y2="748.50" stroke="#000" stroke-width="1.2" />
<line x1="233.44" y1="745.10" x2="233.44" y2="748.50" stroke="#000" stroke-width="1.2" />
<line x1="237.55" y1="745.10" x2="237.55" y2="748.50" stroke="#000" stroke-width="1.2" />
<line x1="241.02" y1="745.10" x2="241.02" y2="748.50" stroke="#000" stroke-width="1.2" />
<line x1="244.03" y1="745.10" x2="244.03" y2="748.50" stroke="#000" stroke-width="1.2" />
<line x1="246.68" y1="745.10" x2="246.68" y2="748.50" stroke="#000" stroke-width="1.2" />
<text transform="translate(9.20,675.00) rotate(-90)" x="0" y="0" font-size="11.5" font-weight="bold" text-anchor="middle" textLength="111.2" lengthAdjust="spacingAndGlyphs">% DEAD (minus ctrl)</text>
<text x="145.20" y="779.10" font-size="11.2" font-weight="bold" text-anchor="middle" textLength="72.00" lengthAdjust="spacingAndGlyphs" >ABT-199 [μM]</text>
<line x1="253.30" y1="615.30" x2="267.90" y2="615.30" stroke="#a30a0e" stroke-width="1" />
<rect x="257.50" y="612.20" width="6.2" height="6.2" fill="#a30a0e"/>
<text x="276.60" y="619.30" font-size="11" fill="#111" textLength="32.00" lengthAdjust="spacingAndGlyphs" >THP-1</text>
<line x1="253.30" y1="631.50" x2="267.90" y2="631.50" stroke="#a30a0e" stroke-width="1" />
<path d="M257.10,628.70 L264.10,628.70 L260.60,634.90 Z" fill="#a30a0e"/>
<text x="276.60" y="635.50" font-size="11" fill="#111" textLength="27.30" lengthAdjust="spacingAndGlyphs" >HL60</text>
<line x1="253.30" y1="647.50" x2="267.90" y2="647.50" stroke="#a30a0e" stroke-width="1" />
<circle cx="260.60" cy="647.50" r="3.30" fill="#a30a0e"/>
<text x="276.60" y="651.50" font-size="11" fill="#111" textLength="25.70" lengthAdjust="spacingAndGlyphs" >KG-1</text>
<line x1="253.30" y1="664.40" x2="267.90" y2="664.40" stroke="#a30a0e" stroke-width="1" />
<path d="M257.10,667.20 L264.10,667.20 L260.60,661.00 Z" fill="#a30a0e"/>
<text x="276.60" y="668.40" font-size="11" fill="#111" textLength="53.30" lengthAdjust="spacingAndGlyphs" >KASUMI-1</text>
<rect x="394.00" y="689.86" width="52.60" height="55.24" fill="#e6e6e6"/>
<line x1="394.00" y1="689.86" x2="446.60" y2="689.86" stroke="#9a9a9a" stroke-width="0.9" stroke-dasharray="1 1"/>
<line x1="446.60" y1="689.86" x2="446.60" y2="745.10" stroke="#9a9a9a" stroke-width="0.9" stroke-dasharray="1 1"/>
<line x1="446.90" y1="736.23" x2="446.90" y2="743.24" stroke="#a30a0e" stroke-width="1" />
<line x1="444.10" y1="736.23" x2="449.70" y2="736.23" stroke="#a30a0e" stroke-width="1" />
<line x1="444.10" y1="743.24" x2="449.70" y2="743.24" stroke="#a30a0e" stroke-width="1" />
<line x1="498.75" y1="734.27" x2="498.75" y2="741.42" stroke="#a30a0e" stroke-width="1" />
<line x1="495.95" y1="734.27" x2="501.55" y2="734.27" stroke="#a30a0e" stroke-width="1" />
<line x1="495.95" y1="741.42" x2="501.55" y2="741.42" stroke="#a30a0e" stroke-width="1" />
<line x1="534.99" y1="718.16" x2="534.99" y2="726.71" stroke="#a30a0e" stroke-width="1" />
<line x1="532.19" y1="718.16" x2="537.79" y2="718.16" stroke="#a30a0e" stroke-width="1" />
<line x1="532.19" y1="726.71" x2="537.79" y2="726.71" stroke="#a30a0e" stroke-width="1" />
<line x1="550.60" y1="709.75" x2="550.60" y2="719.70" stroke="#a30a0e" stroke-width="1" />
<line x1="547.80" y1="709.75" x2="553.40" y2="709.75" stroke="#a30a0e" stroke-width="1" />
<line x1="547.80" y1="719.70" x2="553.40" y2="719.70" stroke="#a30a0e" stroke-width="1" />
<line x1="586.84" y1="646.01" x2="586.84" y2="658.62" stroke="#a30a0e" stroke-width="1" />
<line x1="584.04" y1="646.01" x2="589.64" y2="646.01" stroke="#a30a0e" stroke-width="1" />
<line x1="584.04" y1="658.62" x2="589.64" y2="658.62" stroke="#a30a0e" stroke-width="1" />
<path d="M394.20,745.90 L446.90,739.74 L498.75,737.91 L534.99,722.92 L550.60,715.92 L586.84,654.13" stroke="#a30a0e" stroke-width="1" fill="none" />
<rect x="443.80" y="736.64" width="6.2" height="6.2" fill="#a30a0e"/>
<rect x="495.65" y="734.81" width="6.2" height="6.2" fill="#a30a0e"/>
<rect x="531.89" y="719.82" width="6.2" height="6.2" fill="#a30a0e"/>
<rect x="547.50" y="712.82" width="6.2" height="6.2" fill="#a30a0e"/>
<rect x="583.74" y="651.03" width="6.2" height="6.2" fill="#a30a0e"/>
<line x1="446.90" y1="729.23" x2="446.90" y2="736.65" stroke="#a30a0e" stroke-width="1" />
<line x1="444.10" y1="729.23" x2="449.70" y2="729.23" stroke="#a30a0e" stroke-width="1" />
<line x1="444.10" y1="736.65" x2="449.70" y2="736.65" stroke="#a30a0e" stroke-width="1" />
<line x1="498.75" y1="713.40" x2="498.75" y2="730.91" stroke="#a30a0e" stroke-width="1" />
<line x1="495.95" y1="713.40" x2="501.55" y2="713.40" stroke="#a30a0e" stroke-width="1" />
<line x1="495.95" y1="730.91" x2="501.55" y2="730.91" stroke="#a30a0e" stroke-width="1" />
<line x1="534.99" y1="711.58" x2="534.99" y2="721.66" stroke="#a30a0e" stroke-width="1" />
<line x1="532.19" y1="711.58" x2="537.79" y2="711.58" stroke="#a30a0e" stroke-width="1" />
<line x1="532.19" y1="721.66" x2="537.79" y2="721.66" stroke="#a30a0e" stroke-width="1" />
<line x1="550.60" y1="710.73" x2="550.60" y2="717.32" stroke="#a30a0e" stroke-width="1" />
<line x1="547.80" y1="710.73" x2="553.40" y2="710.73" stroke="#a30a0e" stroke-width="1" />
<line x1="547.80" y1="717.32" x2="553.40" y2="717.32" stroke="#a30a0e" stroke-width="1" />
<line x1="586.84" y1="670.81" x2="586.84" y2="676.55" stroke="#a30a0e" stroke-width="1" />
<line x1="584.04" y1="670.81" x2="589.64" y2="670.81" stroke="#a30a0e" stroke-width="1" />
<line x1="584.04" y1="676.55" x2="589.64" y2="676.55" stroke="#a30a0e" stroke-width="1" />
<path d="M394.20,745.90 L446.90,732.59 L498.75,722.08 L534.99,716.62 L550.60,714.10 L586.84,673.89" stroke="#a30a0e" stroke-width="1" fill="none" />
<circle cx="446.90" cy="732.59" r="3.30" fill="#a30a0e"/>
<circle cx="498.75" cy="722.08" r="3.30" fill="#a30a0e"/>
<circle cx="534.99" cy="716.62" r="3.30" fill="#a30a0e"/>
<circle cx="550.60" cy="714.10" r="3.30" fill="#a30a0e"/>
<circle cx="586.84" cy="673.89" r="3.30" fill="#a30a0e"/>
<line x1="498.75" y1="687.62" x2="498.75" y2="715.22" stroke="#a30a0e" stroke-width="1" />
<line x1="495.95" y1="687.62" x2="501.55" y2="687.62" stroke="#a30a0e" stroke-width="1" />
<line x1="495.95" y1="715.22" x2="501.55" y2="715.22" stroke="#a30a0e" stroke-width="1" />
<line x1="534.99" y1="691.54" x2="534.99" y2="704.57" stroke="#a30a0e" stroke-width="1" />
<line x1="532.19" y1="691.54" x2="537.79" y2="691.54" stroke="#a30a0e" stroke-width="1" />
<line x1="532.19" y1="704.57" x2="537.79" y2="704.57" stroke="#a30a0e" stroke-width="1" />
<line x1="550.60" y1="687.06" x2="550.60" y2="703.31" stroke="#a30a0e" stroke-width="1" />
<line x1="547.80" y1="687.06" x2="553.40" y2="687.06" stroke="#a30a0e" stroke-width="1" />
<line x1="547.80" y1="703.31" x2="553.40" y2="703.31" stroke="#a30a0e" stroke-width="1" />
<line x1="586.84" y1="686.08" x2="586.84" y2="699.67" stroke="#a30a0e" stroke-width="1" />
<line x1="584.04" y1="686.08" x2="589.64" y2="686.08" stroke="#a30a0e" stroke-width="1" />
<line x1="584.04" y1="699.67" x2="589.64" y2="699.67" stroke="#a30a0e" stroke-width="1" />
<path d="M394.20,745.90 L446.90,697.85 L498.75,709.61 L534.99,698.83 L550.60,695.46 L586.84,693.36" stroke="#a30a0e" stroke-width="1" fill="none" />
<path d="M443.40,700.65 L450.40,700.65 L446.90,694.45 Z" fill="#a30a0e"/>
<path d="M495.25,712.41 L502.25,712.41 L498.75,706.21 Z" fill="#a30a0e"/>
<path d="M531.49,701.63 L538.49,701.63 L534.99,695.43 Z" fill="#a30a0e"/>
<path d="M547.10,698.26 L554.10,698.26 L550.60,692.06 Z" fill="#a30a0e"/>
<path d="M583.34,696.16 L590.34,696.16 L586.84,689.96 Z" fill="#a30a0e"/>
<line x1="446.90" y1="705.97" x2="446.90" y2="714.66" stroke="#a30a0e" stroke-width="1" />
<line x1="444.10" y1="705.97" x2="449.70" y2="705.97" stroke="#a30a0e" stroke-width="1" />
<line x1="444.10" y1="714.66" x2="449.70" y2="714.66" stroke="#a30a0e" stroke-width="1" />
<line x1="498.75" y1="646.43" x2="498.75" y2="670.25" stroke="#a30a0e" stroke-width="1" />
<line x1="495.95" y1="646.43" x2="501.55" y2="646.43" stroke="#a30a0e" stroke-width="1" />
<line x1="495.95" y1="670.25" x2="501.55" y2="670.25" stroke="#a30a0e" stroke-width="1" />
<line x1="534.99" y1="641.53" x2="534.99" y2="659.04" stroke="#a30a0e" stroke-width="1" />
<line x1="532.19" y1="641.53" x2="537.79" y2="641.53" stroke="#a30a0e" stroke-width="1" />
<line x1="532.19" y1="659.04" x2="537.79" y2="659.04" stroke="#a30a0e" stroke-width="1" />
<line x1="550.60" y1="641.53" x2="550.60" y2="660.02" stroke="#a30a0e" stroke-width="1" />
<line x1="547.80" y1="641.53" x2="553.40" y2="641.53" stroke="#a30a0e" stroke-width="1" />
<line x1="547.80" y1="660.02" x2="553.40" y2="660.02" stroke="#a30a0e" stroke-width="1" />
<line x1="586.84" y1="639.98" x2="586.84" y2="654.13" stroke="#a30a0e" stroke-width="1" />
<line x1="584.04" y1="639.98" x2="589.64" y2="639.98" stroke="#a30a0e" stroke-width="1" />
<line x1="584.04" y1="654.13" x2="589.64" y2="654.13" stroke="#a30a0e" stroke-width="1" />
<path d="M394.20,745.90 L446.90,709.61 L498.75,658.34 L534.99,650.35 L550.60,650.35 L586.84,647.69" stroke="#a30a0e" stroke-width="1" fill="none" />
<path d="M443.40,706.81 L450.40,706.81 L446.90,713.01 Z" fill="#a30a0e"/>
<path d="M495.25,655.54 L502.25,655.54 L498.75,661.74 Z" fill="#a30a0e"/>
<path d="M531.49,647.55 L538.49,647.55 L534.99,653.75 Z" fill="#a30a0e"/>
<path d="M547.10,647.55 L554.10,647.55 L550.60,653.75 Z" fill="#a30a0e"/>
<path d="M583.34,644.89 L590.34,644.89 L586.84,651.09 Z" fill="#a30a0e"/>
<line x1="394.00" y1="605.00" x2="394.00" y2="745.10" stroke="#000" stroke-width="1.6" />
<line x1="388.50" y1="717.88" x2="394.00" y2="717.88" stroke="#000" stroke-width="1.6" />
<text x="386.20" y="722.38" font-size="10" font-weight="bold" text-anchor="end" >20</text>
<line x1="388.50" y1="689.86" x2="394.00" y2="689.86" stroke="#000" stroke-width="1.6" />
<text x="386.20" y="694.36" font-size="10" font-weight="bold" text-anchor="end" >40</text>
<line x1="388.50" y1="661.84" x2="394.00" y2="661.84" stroke="#000" stroke-width="1.6" />
<text x="386.20" y="666.34" font-size="10" font-weight="bold" text-anchor="end" >60</text>
<line x1="388.50" y1="633.82" x2="394.00" y2="633.82" stroke="#000" stroke-width="1.6" />
<text x="386.20" y="638.32" font-size="10" font-weight="bold" text-anchor="end" >80</text>
<line x1="388.50" y1="605.80" x2="394.00" y2="605.80" stroke="#000" stroke-width="1.6" />
<text x="386.20" y="610.30" font-size="10" font-weight="bold" text-anchor="end" >100</text>
<line x1="393.20" y1="745.10" x2="602.90" y2="745.10" stroke="#000" stroke-width="1.6" />
<line x1="394.20" y1="745.10" x2="394.20" y2="751.30" stroke="#000" stroke-width="1.6" />
<text x="394.20" y="763.10" font-size="10" font-weight="bold" text-anchor="middle" >0</text>
<line x1="446.60" y1="745.10" x2="446.60" y2="751.30" stroke="#000" stroke-width="1.6" />
<text x="446.60" y="763.10" font-size="10" font-weight="bold" text-anchor="middle" >0.01</text>
<line x1="498.40" y1="745.10" x2="498.40" y2="751.30" stroke="#000" stroke-width="1.6" />
<text x="498.40" y="763.10" font-size="10" font-weight="bold" text-anchor="middle" >0.1</text>
<line x1="550.60" y1="745.10" x2="550.60" y2="751.30" stroke="#000" stroke-width="1.6" />
<text x="550.60" y="763.10" font-size="10" font-weight="bold" text-anchor="middle" >1</text>
<line x1="602.10" y1="745.10" x2="602.10" y2="751.30" stroke="#000" stroke-width="1.6" />
<text x="602.10" y="763.10" font-size="10" font-weight="bold" text-anchor="middle" >10</text>
<line x1="410.21" y1="745.10" x2="410.21" y2="748.50" stroke="#000" stroke-width="1.2" />
<line x1="419.34" y1="745.10" x2="419.34" y2="748.50" stroke="#000" stroke-width="1.2" />
<line x1="425.82" y1="745.10" x2="425.82" y2="748.50" stroke="#000" stroke-width="1.2" />
<line x1="430.84" y1="745.10" x2="430.84" y2="748.50" stroke="#000" stroke-width="1.2" />
<line x1="434.95" y1="745.10" x2="434.95" y2="748.50" stroke="#000" stroke-width="1.2" />
<line x1="438.42" y1="745.10" x2="438.42" y2="748.50" stroke="#000" stroke-width="1.2" />
<line x1="441.43" y1="745.10" x2="441.43" y2="748.50" stroke="#000" stroke-width="1.2" />
<line x1="444.08" y1="745.10" x2="444.08" y2="748.50" stroke="#000" stroke-width="1.2" />
<line x1="462.06" y1="745.10" x2="462.06" y2="748.50" stroke="#000" stroke-width="1.2" />
<line x1="471.19" y1="745.10" x2="471.19" y2="748.50" stroke="#000" stroke-width="1.2" />
<line x1="477.67" y1="745.10" x2="477.67" y2="748.50" stroke="#000" stroke-width="1.2" />
<line x1="482.69" y1="745.10" x2="482.69" y2="748.50" stroke="#000" stroke-width="1.2" />
<line x1="486.80" y1="745.10" x2="486.80" y2="748.50" stroke="#000" stroke-width="1.2" />
<line x1="490.27" y1="745.10" x2="490.27" y2="748.50" stroke="#000" stroke-width="1.2" />
<line x1="493.28" y1="745.10" x2="493.28" y2="748.50" stroke="#000" stroke-width="1.2" />
<line x1="495.93" y1="745.10" x2="495.93" y2="748.50" stroke="#000" stroke-width="1.2" />
<line x1="513.91" y1="745.10" x2="513.91" y2="748.50" stroke="#000" stroke-width="1.2" />
<line x1="523.04" y1="745.10" x2="523.04" y2="748.50" stroke="#000" stroke-width="1.2" />
<line x1="529.52" y1="745.10" x2="529.52" y2="748.50" stroke="#000" stroke-width="1.2" />
<line x1="534.54" y1="745.10" x2="534.54" y2="748.50" stroke="#000" stroke-width="1.2" />
<line x1="538.65" y1="745.10" x2="538.65" y2="748.50" stroke="#000" stroke-width="1.2" />
<line x1="542.12" y1="745.10" x2="542.12" y2="748.50" stroke="#000" stroke-width="1.2" />
<line x1="545.13" y1="745.10" x2="545.13" y2="748.50" stroke="#000" stroke-width="1.2" />
<line x1="547.78" y1="745.10" x2="547.78" y2="748.50" stroke="#000" stroke-width="1.2" />
<line x1="565.76" y1="745.10" x2="565.76" y2="748.50" stroke="#000" stroke-width="1.2" />
<line x1="574.89" y1="745.10" x2="574.89" y2="748.50" stroke="#000" stroke-width="1.2" />
<line x1="581.37" y1="745.10" x2="581.37" y2="748.50" stroke="#000" stroke-width="1.2" />
<line x1="586.39" y1="745.10" x2="586.39" y2="748.50" stroke="#000" stroke-width="1.2" />
<line x1="590.50" y1="745.10" x2="590.50" y2="748.50" stroke="#000" stroke-width="1.2" />
<line x1="593.97" y1="745.10" x2="593.97" y2="748.50" stroke="#000" stroke-width="1.2" />
<line x1="596.98" y1="745.10" x2="596.98" y2="748.50" stroke="#000" stroke-width="1.2" />
<line x1="599.63" y1="745.10" x2="599.63" y2="748.50" stroke="#000" stroke-width="1.2" />
<text transform="translate(363.40,674.70) rotate(-90)" x="0" y="0" font-size="11.5" font-weight="bold" text-anchor="middle" textLength="110.6" lengthAdjust="spacingAndGlyphs">% DEAD (minus ctrl)</text>
<text x="499.00" y="779.40" font-size="11.2" font-weight="bold" text-anchor="middle" textLength="74.40" lengthAdjust="spacingAndGlyphs" >ABT-263 [μM]</text>
<line x1="607.90" y1="615.20" x2="622.50" y2="615.20" stroke="#a30a0e" stroke-width="1" />
<rect x="612.10" y="612.10" width="6.2" height="6.2" fill="#a30a0e"/>
<text x="631.30" y="619.20" font-size="11" fill="#111" textLength="31.80" lengthAdjust="spacingAndGlyphs" >THP-1</text>
<line x1="607.90" y1="631.90" x2="622.50" y2="631.90" stroke="#a30a0e" stroke-width="1" />
<path d="M611.70,629.10 L618.70,629.10 L615.20,635.30 Z" fill="#a30a0e"/>
<text x="631.30" y="635.90" font-size="11" fill="#111" textLength="31.00" lengthAdjust="spacingAndGlyphs" >HL-60</text>
<line x1="607.90" y1="649.70" x2="622.50" y2="649.70" stroke="#a30a0e" stroke-width="1" />
<circle cx="615.20" cy="649.70" r="3.30" fill="#a30a0e"/>
<text x="631.30" y="653.70" font-size="11" fill="#111" textLength="25.20" lengthAdjust="spacingAndGlyphs" >KG-1</text>
<line x1="607.90" y1="667.20" x2="622.50" y2="667.20" stroke="#a30a0e" stroke-width="1" />
<path d="M611.70,670.00 L618.70,670.00 L615.20,663.80 Z" fill="#a30a0e"/>
<text x="631.30" y="671.20" font-size="11" fill="#111" textLength="53.30" lengthAdjust="spacingAndGlyphs" >KASUMI-1</text>
<text x="0.60" y="819.20" font-size="16" font-weight="bold" >d</text>
<text x="158.30" y="822.30" font-size="13" font-weight="bold" text-anchor="middle" textLength="39.60" lengthAdjust="spacingAndGlyphs" >PBMC</text>
<line x1="45.00" y1="958.20" x2="279.00" y2="958.20" stroke="#555" stroke-width="0.8" stroke-dasharray="1.2 1"/>
<line x1="49.00" y1="987.30" x2="270.00" y2="987.30" stroke="#000" stroke-width="1.6" stroke-dasharray="1.6 2.8"/>
<line x1="101.50" y1="981.92" x2="101.50" y2="984.83" stroke="#000" stroke-width="1" />
<line x1="98.70" y1="981.92" x2="104.30" y2="981.92" stroke="#000" stroke-width="1" />
<line x1="98.70" y1="984.83" x2="104.30" y2="984.83" stroke="#000" stroke-width="1" />
<line x1="158.90" y1="980.91" x2="158.90" y2="992.08" stroke="#000" stroke-width="1" />
<line x1="156.10" y1="980.91" x2="161.70" y2="980.91" stroke="#000" stroke-width="1" />
<line x1="156.10" y1="992.08" x2="161.70" y2="992.08" stroke="#000" stroke-width="1" />
<line x1="216.30" y1="969.75" x2="216.30" y2="979.61" stroke="#000" stroke-width="1" />
<line x1="213.50" y1="969.75" x2="219.10" y2="969.75" stroke="#000" stroke-width="1" />
<line x1="213.50" y1="979.61" x2="219.10" y2="979.61" stroke="#000" stroke-width="1" />
<line x1="256.42" y1="957.71" x2="256.42" y2="972.21" stroke="#000" stroke-width="1" />
<line x1="253.62" y1="957.71" x2="259.22" y2="957.71" stroke="#000" stroke-width="1" />
<line x1="253.62" y1="972.21" x2="259.22" y2="972.21" stroke="#000" stroke-width="1" />
<line x1="273.70" y1="962.35" x2="273.70" y2="969.75" stroke="#000" stroke-width="1" />
<line x1="270.90" y1="962.35" x2="276.50" y2="962.35" stroke="#000" stroke-width="1" />
<line x1="270.90" y1="969.75" x2="276.50" y2="969.75" stroke="#000" stroke-width="1" />
<path d="M45.20,987.00 L101.50,983.38 L158.90,985.55 L216.30,974.24 L256.42,965.39 L273.70,965.39" stroke="#000" stroke-width="1" fill="none" />
<rect x="42.10" y="983.90" width="6.2" height="6.2" fill="#000"/>
<rect x="98.40" y="980.27" width="6.2" height="6.2" fill="#000"/>
<rect x="155.80" y="982.45" width="6.2" height="6.2" fill="#000"/>
<rect x="213.20" y="971.14" width="6.2" height="6.2" fill="#000"/>
<rect x="253.32" y="962.29" width="6.2" height="6.2" fill="#000"/>
<rect x="270.60" y="962.29" width="6.2" height="6.2" fill="#000"/>
<line x1="101.50" y1="987.29" x2="101.50" y2="991.64" stroke="#000" stroke-width="1" />
<line x1="98.70" y1="987.29" x2="104.30" y2="987.29" stroke="#000" stroke-width="1" />
<line x1="98.70" y1="991.64" x2="104.30" y2="991.64" stroke="#000" stroke-width="1" />
<line x1="158.90" y1="979.46" x2="158.90" y2="990.91" stroke="#000" stroke-width="1" />
<line x1="156.10" y1="979.46" x2="161.70" y2="979.46" stroke="#000" stroke-width="1" />
<line x1="156.10" y1="990.91" x2="161.70" y2="990.91" stroke="#000" stroke-width="1" />
<line x1="216.30" y1="960.47" x2="216.30" y2="976.27" stroke="#000" stroke-width="1" />
<line x1="213.50" y1="960.47" x2="219.10" y2="960.47" stroke="#000" stroke-width="1" />
<line x1="213.50" y1="976.27" x2="219.10" y2="976.27" stroke="#000" stroke-width="1" />
<line x1="256.42" y1="942.77" x2="256.42" y2="958.73" stroke="#000" stroke-width="1" />
<line x1="253.62" y1="942.77" x2="259.22" y2="942.77" stroke="#000" stroke-width="1" />
<line x1="253.62" y1="958.73" x2="259.22" y2="958.73" stroke="#000" stroke-width="1" />
<line x1="273.70" y1="931.90" x2="273.70" y2="955.53" stroke="#000" stroke-width="1" />
<line x1="270.90" y1="931.90" x2="276.50" y2="931.90" stroke="#000" stroke-width="1" />
<line x1="270.90" y1="955.53" x2="276.50" y2="955.53" stroke="#000" stroke-width="1" />
<path d="M45.20,987.00 L101.50,989.47 L158.90,985.12 L216.30,968.73 L256.42,951.18 L273.70,943.50" stroke="#000" stroke-width="1" fill="none" />
<rect x="98.90" y="986.87" width="5.2" height="5.2" fill="none" stroke="#000" stroke-width="1.1"/>
<rect x="156.30" y="982.51" width="5.2" height="5.2" fill="none" stroke="#000" stroke-width="1.1"/>
<rect x="213.70" y="966.13" width="5.2" height="5.2" fill="none" stroke="#000" stroke-width="1.1"/>
<rect x="253.82" y="948.58" width="5.2" height="5.2" fill="none" stroke="#000" stroke-width="1.1"/>
<rect x="271.10" y="940.90" width="5.2" height="5.2" fill="none" stroke="#000" stroke-width="1.1"/>
<line x1="101.50" y1="964.38" x2="101.50" y2="967.28" stroke="#a30a0e" stroke-width="1" />
<line x1="98.70" y1="964.38" x2="104.30" y2="964.38" stroke="#a30a0e" stroke-width="1" />
<line x1="98.70" y1="967.28" x2="104.30" y2="967.28" stroke="#a30a0e" stroke-width="1" />
<line x1="158.90" y1="936.83" x2="158.90" y2="943.50" stroke="#a30a0e" stroke-width="1" />
<line x1="156.10" y1="936.83" x2="161.70" y2="936.83" stroke="#a30a0e" stroke-width="1" />
<line x1="156.10" y1="943.50" x2="161.70" y2="943.50" stroke="#a30a0e" stroke-width="1" />
<line x1="216.30" y1="916.10" x2="216.30" y2="923.35" stroke="#a30a0e" stroke-width="1" />
<line x1="213.50" y1="916.10" x2="219.10" y2="916.10" stroke="#a30a0e" stroke-width="1" />
<line x1="213.50" y1="923.35" x2="219.10" y2="923.35" stroke="#a30a0e" stroke-width="1" />
<line x1="256.42" y1="905.80" x2="256.42" y2="913.92" stroke="#a30a0e" stroke-width="1" />
<line x1="253.62" y1="905.80" x2="259.22" y2="905.80" stroke="#a30a0e" stroke-width="1" />
<line x1="253.62" y1="913.92" x2="259.22" y2="913.92" stroke="#a30a0e" stroke-width="1" />
<line x1="273.70" y1="900.73" x2="273.70" y2="909.57" stroke="#a30a0e" stroke-width="1" />
<line x1="270.90" y1="900.73" x2="276.50" y2="900.73" stroke="#a30a0e" stroke-width="1" />
<line x1="270.90" y1="909.57" x2="276.50" y2="909.57" stroke="#a30a0e" stroke-width="1" />
<path d="M45.20,987.00 L101.50,965.83 L158.90,940.16 L216.30,919.87 L256.42,910.15 L273.70,905.22" stroke="#a30a0e" stroke-width="1" fill="none" />
<circle cx="101.50" cy="965.83" r="3.30" fill="#a30a0e"/>
<circle cx="158.90" cy="940.16" r="3.30" fill="#a30a0e"/>
<circle cx="216.30" cy="919.87" r="3.30" fill="#a30a0e"/>
<circle cx="256.42" cy="910.15" r="3.30" fill="#a30a0e"/>
<circle cx="273.70" cy="905.22" r="3.30" fill="#a30a0e"/>
<line x1="101.50" y1="972.50" x2="101.50" y2="975.40" stroke="#a30a0e" stroke-width="1" />
<line x1="98.70" y1="972.50" x2="104.30" y2="972.50" stroke="#a30a0e" stroke-width="1" />
<line x1="98.70" y1="975.40" x2="104.30" y2="975.40" stroke="#a30a0e" stroke-width="1" />
<line x1="158.90" y1="937.41" x2="158.90" y2="950.46" stroke="#a30a0e" stroke-width="1" />
<line x1="156.10" y1="937.41" x2="161.70" y2="937.41" stroke="#a30a0e" stroke-width="1" />
<line x1="156.10" y1="950.46" x2="161.70" y2="950.46" stroke="#a30a0e" stroke-width="1" />
<line x1="216.30" y1="906.67" x2="216.30" y2="915.08" stroke="#a30a0e" stroke-width="1" />
<line x1="213.50" y1="906.67" x2="219.10" y2="906.67" stroke="#a30a0e" stroke-width="1" />
<line x1="213.50" y1="915.08" x2="219.10" y2="915.08" stroke="#a30a0e" stroke-width="1" />
<line x1="256.42" y1="893.48" x2="256.42" y2="900.73" stroke="#a30a0e" stroke-width="1" />
<line x1="253.62" y1="893.48" x2="259.22" y2="893.48" stroke="#a30a0e" stroke-width="1" />
<line x1="253.62" y1="900.73" x2="259.22" y2="900.73" stroke="#a30a0e" stroke-width="1" />
<line x1="273.70" y1="887.46" x2="273.70" y2="894.27" stroke="#a30a0e" stroke-width="1" />
<line x1="270.90" y1="887.46" x2="276.50" y2="887.46" stroke="#a30a0e" stroke-width="1" />
<line x1="270.90" y1="894.27" x2="276.50" y2="894.27" stroke="#a30a0e" stroke-width="1" />
<path d="M45.20,987.00 L101.50,973.95 L158.90,943.93 L216.30,911.16 L256.42,897.10 L273.70,890.87" stroke="#a30a0e" stroke-width="1" fill="none" />
<circle cx="101.50" cy="973.95" r="2.90" fill="none" stroke="#a30a0e" stroke-width="1.1"/>
<circle cx="158.90" cy="943.93" r="2.90" fill="none" stroke="#a30a0e" stroke-width="1.1"/>
<circle cx="216.30" cy="911.16" r="2.90" fill="none" stroke="#a30a0e" stroke-width="1.1"/>
<circle cx="256.42" cy="897.10" r="2.90" fill="none" stroke="#a30a0e" stroke-width="1.1"/>
<circle cx="273.70" cy="890.87" r="2.90" fill="none" stroke="#a30a0e" stroke-width="1.1"/>
<line x1="45.00" y1="841.20" x2="45.00" y2="993.80" stroke="#000" stroke-width="1.6" />
<line x1="38.60" y1="987.00" x2="45.00" y2="987.00" stroke="#000" stroke-width="1.6" />
<text x="36.30" y="990.60" font-size="11.2" font-weight="bold" text-anchor="end" >0</text>
<line x1="38.60" y1="958.00" x2="45.00" y2="958.00" stroke="#000" stroke-width="1.6" />
<text x="36.30" y="961.60" font-size="11.2" font-weight="bold" text-anchor="end" >20</text>
<line x1="38.60" y1="929.00" x2="45.00" y2="929.00" stroke="#000" stroke-width="1.6" />
<text x="36.30" y="932.60" font-size="11.2" font-weight="bold" text-anchor="end" >40</text>
<line x1="38.60" y1="900.00" x2="45.00" y2="900.00" stroke="#000" stroke-width="1.6" />
<text x="36.30" y="903.60" font-size="11.2" font-weight="bold" text-anchor="end" >60</text>
<line x1="38.60" y1="871.00" x2="45.00" y2="871.00" stroke="#000" stroke-width="1.6" />
<text x="36.30" y="874.60" font-size="11.2" font-weight="bold" text-anchor="end" >80</text>
<line x1="38.60" y1="842.00" x2="45.00" y2="842.00" stroke="#000" stroke-width="1.6" />
<text x="36.30" y="845.60" font-size="11.2" font-weight="bold" text-anchor="end" >100</text>
<line x1="44.20" y1="993.80" x2="274.80" y2="993.80" stroke="#000" stroke-width="1.6" />
<line x1="45.20" y1="993.80" x2="45.20" y2="1000.00" stroke="#000" stroke-width="1.6" />
<text x="45.20" y="1013.20" font-size="11.2" font-weight="bold" text-anchor="middle" >0</text>
<line x1="101.80" y1="993.80" x2="101.80" y2="1000.00" stroke="#000" stroke-width="1.6" />
<text x="101.80" y="1013.20" font-size="11.2" font-weight="bold" text-anchor="middle" >0.01</text>
<line x1="159.30" y1="993.80" x2="159.30" y2="1000.00" stroke="#000" stroke-width="1.6" />
<text x="159.30" y="1013.20" font-size="11.2" font-weight="bold" text-anchor="middle" >0.1</text>
<line x1="216.30" y1="993.80" x2="216.30" y2="1000.00" stroke="#000" stroke-width="1.6" />
<text x="216.30" y="1013.20" font-size="11.2" font-weight="bold" text-anchor="middle" >1</text>
<line x1="274.00" y1="993.80" x2="274.00" y2="1000.00" stroke="#000" stroke-width="1.6" />
<text x="274.00" y="1013.20" font-size="11.2" font-weight="bold" text-anchor="middle" >10</text>
<line x1="61.38" y1="993.80" x2="61.38" y2="997.20" stroke="#000" stroke-width="1.2" />
<line x1="71.49" y1="993.80" x2="71.49" y2="997.20" stroke="#000" stroke-width="1.2" />
<line x1="78.66" y1="993.80" x2="78.66" y2="997.20" stroke="#000" stroke-width="1.2" />
<line x1="84.22" y1="993.80" x2="84.22" y2="997.20" stroke="#000" stroke-width="1.2" />
<line x1="88.77" y1="993.80" x2="88.77" y2="997.20" stroke="#000" stroke-width="1.2" />
<line x1="92.61" y1="993.80" x2="92.61" y2="997.20" stroke="#000" stroke-width="1.2" />
<line x1="95.94" y1="993.80" x2="95.94" y2="997.20" stroke="#000" stroke-width="1.2" />
<line x1="98.87" y1="993.80" x2="98.87" y2="997.20" stroke="#000" stroke-width="1.2" />
<line x1="118.78" y1="993.80" x2="118.78" y2="997.20" stroke="#000" stroke-width="1.2" />
<line x1="128.89" y1="993.80" x2="128.89" y2="997.20" stroke="#000" stroke-width="1.2" />
<line x1="136.06" y1="993.80" x2="136.06" y2="997.20" stroke="#000" stroke-width="1.2" />
<line x1="141.62" y1="993.80" x2="141.62" y2="997.20" stroke="#000" stroke-width="1.2" />
<line x1="146.17" y1="993.80" x2="146.17" y2="997.20" stroke="#000" stroke-width="1.2" />
<line x1="150.01" y1="993.80" x2="150.01" y2="997.20" stroke="#000" stroke-width="1.2" />
<line x1="153.34" y1="993.80" x2="153.34" y2="997.20" stroke="#000" stroke-width="1.2" />
<line x1="156.27" y1="993.80" x2="156.27" y2="997.20" stroke="#000" stroke-width="1.2" />
<line x1="176.18" y1="993.80" x2="176.18" y2="997.20" stroke="#000" stroke-width="1.2" />
<line x1="186.29" y1="993.80" x2="186.29" y2="997.20" stroke="#000" stroke-width="1.2" />
<line x1="193.46" y1="993.80" x2="193.46" y2="997.20" stroke="#000" stroke-width="1.2" />
<line x1="199.02" y1="993.80" x2="199.02" y2="997.20" stroke="#000" stroke-width="1.2" />
<line x1="203.57" y1="993.80" x2="203.57" y2="997.20" stroke="#000" stroke-width="1.2" />
<line x1="207.41" y1="993.80" x2="207.41" y2="997.20" stroke="#000" stroke-width="1.2" />
<line x1="210.74" y1="993.80" x2="210.74" y2="997.20" stroke="#000" stroke-width="1.2" />
<line x1="213.67" y1="993.80" x2="213.67" y2="997.20" stroke="#000" stroke-width="1.2" />
<line x1="233.58" y1="993.80" x2="233.58" y2="997.20" stroke="#000" stroke-width="1.2" />
<line x1="243.69" y1="993.80" x2="243.69" y2="997.20" stroke="#000" stroke-width="1.2" />
<line x1="250.86" y1="993.80" x2="250.86" y2="997.20" stroke="#000" stroke-width="1.2" />
<line x1="256.42" y1="993.80" x2="256.42" y2="997.20" stroke="#000" stroke-width="1.2" />
<line x1="260.97" y1="993.80" x2="260.97" y2="997.20" stroke="#000" stroke-width="1.2" />
<line x1="264.81" y1="993.80" x2="264.81" y2="997.20" stroke="#000" stroke-width="1.2" />
<line x1="268.14" y1="993.80" x2="268.14" y2="997.20" stroke="#000" stroke-width="1.2" />
<line x1="271.07" y1="993.80" x2="271.07" y2="997.20" stroke="#000" stroke-width="1.2" />
<text transform="translate(10.30,918.00) rotate(-90)" x="0" y="0" font-size="12.4" font-weight="bold" text-anchor="middle" textLength="121.1" lengthAdjust="spacingAndGlyphs">% DEAD (minus ctrl)</text>
<text x="158.90" y="1031.60" font-size="12.3" font-weight="bold" text-anchor="middle" textLength="147.80" lengthAdjust="spacingAndGlyphs" >Drug concentration [μM]</text>
<line x1="102.10" y1="927.00" x2="102.10" y2="941.50" stroke="#a3141a" stroke-width="2.2" />
<path d="M98.30,941.00 L105.90,941.00 L102.10,951.00 Z" stroke="none" stroke-width="1" fill="#a3141a" />
<line x1="248.20" y1="870.20" x2="248.20" y2="884.80" stroke="#000" stroke-width="2.1" />
<path d="M244.10,884.30 L252.30,884.30 L248.20,893.90 Z" stroke="none" stroke-width="1" fill="#000" />
<line x1="274.50" y1="852.00" x2="274.50" y2="866.60" stroke="#000" stroke-width="2.1" />
<path d="M270.55,866.10 L278.45,866.10 L274.50,876.10 Z" stroke="none" stroke-width="1" fill="#000" />
<text x="103.20" y="900.70" font-size="9.2" fill="#1a1a1a" text-anchor="middle" textLength="37.70" lengthAdjust="spacingAndGlyphs" stroke="#1a1a1a" stroke-width="0.05">ABT-199</text>
<text x="103.20" y="911.40" font-size="9.2" fill="#1a1a1a" text-anchor="middle" textLength="37.70" lengthAdjust="spacingAndGlyphs" stroke="#1a1a1a" stroke-width="0.05">ABT-263</text>
<text x="103.80" y="922.00" font-size="9.2" fill="#1a1a1a" text-anchor="middle" textLength="32.90" lengthAdjust="spacingAndGlyphs" stroke="#1a1a1a" stroke-width="0.05">0.01 μM</text>
<text x="249.00" y="853.70" font-size="9.2" fill="#1a1a1a" text-anchor="middle" textLength="20.10" lengthAdjust="spacingAndGlyphs" stroke="#1a1a1a" stroke-width="0.05">BV-6</text>
<text x="249.80" y="864.70" font-size="9.2" fill="#1a1a1a" text-anchor="middle" textLength="27.80" lengthAdjust="spacingAndGlyphs" stroke="#1a1a1a" stroke-width="0.05">2.5 μM</text>
<text x="273.60" y="832.70" font-size="9.2" fill="#1a1a1a" text-anchor="middle" textLength="32.00" lengthAdjust="spacingAndGlyphs" stroke="#1a1a1a" stroke-width="0.05">LCL161</text>
<text x="275.00" y="843.70" font-size="9.2" fill="#1a1a1a" text-anchor="middle" textLength="24.30" lengthAdjust="spacingAndGlyphs" stroke="#1a1a1a" stroke-width="0.05">10 μM</text>
<line x1="308.80" y1="851.80" x2="324.90" y2="851.80" stroke="#000" stroke-width="1" />
<rect x="313.80" y="848.80" width="6" height="6" fill="#000"/>
<text x="334.40" y="856.20" font-size="12.3" fill="#111" textLength="43.00" lengthAdjust="spacingAndGlyphs" >LCL161</text>
<line x1="308.80" y1="872.20" x2="324.90" y2="872.20" stroke="#333" stroke-width="1" />
<rect x="314.30" y="869.70" width="5" height="5" fill="none" stroke="#333" stroke-width="1.1"/>
<text x="334.40" y="876.60" font-size="12.3" fill="#111" textLength="28.50" lengthAdjust="spacingAndGlyphs" >BV-6</text>
<line x1="308.80" y1="892.30" x2="324.90" y2="892.30" stroke="#a30a0e" stroke-width="1" />
<circle cx="316.80" cy="892.30" r="3.20" fill="#a30a0e"/>
<text x="334.40" y="896.70" font-size="12.3" fill="#111" textLength="50.00" lengthAdjust="spacingAndGlyphs" >ABT-199</text>
<line x1="308.80" y1="912.70" x2="324.90" y2="912.70" stroke="#a30a0e" stroke-width="1" />
<circle cx="316.80" cy="912.70" r="2.80" fill="none" stroke="#a30a0e" stroke-width="1.1"/>
<text x="334.40" y="917.10" font-size="12.3" fill="#111" textLength="50.00" lengthAdjust="spacingAndGlyphs" >ABT-263</text>
<path d="M396,847.9 L406,847.9 L406,882 L396,882" stroke="#111" stroke-width="1.1" fill="none" />
<path d="M396,888.2 L406,888.2 L406,922.2 L396,922.2" stroke="#111" stroke-width="1.1" fill="none" />
<text x="414.20" y="873.00" font-size="12.3" fill="#111" textLength="98.00" lengthAdjust="spacingAndGlyphs" >SMAC mimetics</text>
<text x="414.20" y="906.50" font-size="12.3" fill="#111" textLength="86.00" lengthAdjust="spacingAndGlyphs" >BH3 mimetics</text>
</svg></body></html>
